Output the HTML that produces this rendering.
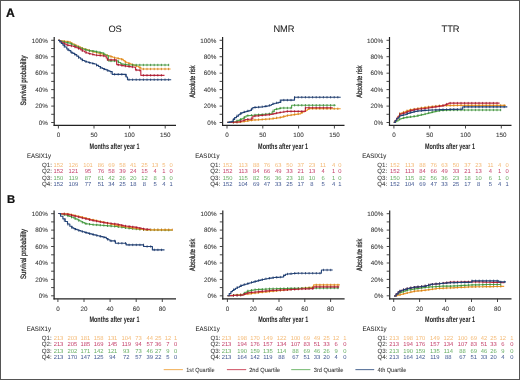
<!DOCTYPE html>
<html><head><meta charset="utf-8"><style>html,body{margin:0;padding:0;background:#fff;width:520px;height:380px;overflow:hidden}</style></head>
<body><svg width="520" height="380" viewBox="0 0 520 380" style="display:block;will-change:transform">
<g font-family='"Liberation Sans", sans-serif' style="text-rendering:geometricPrecision">
<rect x="0" y="0" width="520" height="380" fill="#fff"/>
<text x="5.9" y="16.5" font-size="12.2" fill="#111" stroke="#111" stroke-width="0.22" text-anchor="start" font-weight="bold" >A</text>
<text x="6.9" y="202.9" font-size="11.3" fill="#111" stroke="#111" stroke-width="0.22" text-anchor="start" font-weight="bold" >B</text>
<text x="115.1" y="32.1" font-size="9.3" fill="#222" stroke="#222" stroke-width="0.05" text-anchor="middle" font-weight="normal" >OS</text>
<text x="284.0" y="32.1" font-size="9.3" fill="#222" stroke="#222" stroke-width="0.05" text-anchor="middle" font-weight="normal" >NMR</text>
<text x="450.5" y="32.1" font-size="9.3" fill="#222" stroke="#222" stroke-width="0.05" text-anchor="middle" font-weight="normal" >TTR</text>
<line x1="54.2" y1="37" x2="54.2" y2="125.89999999999999" stroke="#222" stroke-width="1.2"/>
<line x1="53.6" y1="125.3" x2="176" y2="125.3" stroke="#222" stroke-width="1.2"/>
<line x1="51.2" y1="122.5" x2="54.2" y2="122.5" stroke="#333" stroke-width="0.9"/>
<text x="47.900000000000006" y="124.7" font-size="6.3" fill="#3a3a3a" stroke="#3a3a3a" stroke-width="0.08" text-anchor="end" font-weight="normal" >0%</text>
<line x1="51.2" y1="114.3" x2="54.2" y2="114.3" stroke="#333" stroke-width="0.9"/>
<line x1="51.2" y1="106.1" x2="54.2" y2="106.1" stroke="#333" stroke-width="0.9"/>
<text x="47.900000000000006" y="108.3" font-size="6.3" fill="#3a3a3a" stroke="#3a3a3a" stroke-width="0.08" text-anchor="end" font-weight="normal" >20%</text>
<line x1="51.2" y1="97.8" x2="54.2" y2="97.8" stroke="#333" stroke-width="0.9"/>
<line x1="51.2" y1="89.6" x2="54.2" y2="89.6" stroke="#333" stroke-width="0.9"/>
<text x="47.900000000000006" y="91.8" font-size="6.3" fill="#3a3a3a" stroke="#3a3a3a" stroke-width="0.08" text-anchor="end" font-weight="normal" >40%</text>
<line x1="51.2" y1="81.4" x2="54.2" y2="81.4" stroke="#333" stroke-width="0.9"/>
<line x1="51.2" y1="73.2" x2="54.2" y2="73.2" stroke="#333" stroke-width="0.9"/>
<text x="47.900000000000006" y="75.4" font-size="6.3" fill="#3a3a3a" stroke="#3a3a3a" stroke-width="0.08" text-anchor="end" font-weight="normal" >60%</text>
<line x1="51.2" y1="65.0" x2="54.2" y2="65.0" stroke="#333" stroke-width="0.9"/>
<line x1="51.2" y1="56.7" x2="54.2" y2="56.7" stroke="#333" stroke-width="0.9"/>
<text x="47.900000000000006" y="58.9" font-size="6.3" fill="#3a3a3a" stroke="#3a3a3a" stroke-width="0.08" text-anchor="end" font-weight="normal" >80%</text>
<line x1="51.2" y1="48.5" x2="54.2" y2="48.5" stroke="#333" stroke-width="0.9"/>
<line x1="51.2" y1="40.3" x2="54.2" y2="40.3" stroke="#333" stroke-width="0.9"/>
<text x="47.900000000000006" y="42.5" font-size="6.3" fill="#3a3a3a" stroke="#3a3a3a" stroke-width="0.08" text-anchor="end" font-weight="normal" >100%</text>
<line x1="58.4" y1="125.3" x2="58.4" y2="128.5" stroke="#333" stroke-width="0.9"/>
<text x="58.4" y="137.2" font-size="6.3" fill="#3a3a3a" stroke="#3a3a3a" stroke-width="0.08" text-anchor="middle" font-weight="normal" >0</text>
<line x1="94.0" y1="125.3" x2="94.0" y2="128.5" stroke="#333" stroke-width="0.9"/>
<text x="94.0" y="137.2" font-size="6.3" fill="#3a3a3a" stroke="#3a3a3a" stroke-width="0.08" text-anchor="middle" font-weight="normal" >50</text>
<line x1="129.6" y1="125.3" x2="129.6" y2="128.5" stroke="#333" stroke-width="0.9"/>
<text x="129.6" y="137.2" font-size="6.3" fill="#3a3a3a" stroke="#3a3a3a" stroke-width="0.08" text-anchor="middle" font-weight="normal" >100</text>
<line x1="165.2" y1="125.3" x2="165.2" y2="128.5" stroke="#333" stroke-width="0.9"/>
<text x="165.2" y="137.2" font-size="6.3" fill="#3a3a3a" stroke="#3a3a3a" stroke-width="0.08" text-anchor="middle" font-weight="normal" >150</text>
<text x="114.6" y="148.8" font-size="8.0" fill="#222" text-anchor="middle" font-weight="bold" textLength="50" lengthAdjust="spacingAndGlyphs" >Months after year 1</text>
<text x="0" y="0" font-size="7.8" fill="#2a2a2a" stroke="#2a2a2a" stroke-width="0.28" text-anchor="middle" textLength="50" lengthAdjust="spacingAndGlyphs" transform="translate(25.6,80.6) rotate(-90)">Survival probability</text>
<line x1="222.6" y1="37" x2="222.6" y2="125.89999999999999" stroke="#222" stroke-width="1.2"/>
<line x1="222.0" y1="125.3" x2="344.5" y2="125.3" stroke="#222" stroke-width="1.2"/>
<line x1="219.6" y1="122.5" x2="222.6" y2="122.5" stroke="#333" stroke-width="0.9"/>
<text x="216.29999999999998" y="124.7" font-size="6.3" fill="#3a3a3a" stroke="#3a3a3a" stroke-width="0.08" text-anchor="end" font-weight="normal" >0%</text>
<line x1="219.6" y1="114.3" x2="222.6" y2="114.3" stroke="#333" stroke-width="0.9"/>
<line x1="219.6" y1="106.1" x2="222.6" y2="106.1" stroke="#333" stroke-width="0.9"/>
<text x="216.29999999999998" y="108.3" font-size="6.3" fill="#3a3a3a" stroke="#3a3a3a" stroke-width="0.08" text-anchor="end" font-weight="normal" >20%</text>
<line x1="219.6" y1="97.8" x2="222.6" y2="97.8" stroke="#333" stroke-width="0.9"/>
<line x1="219.6" y1="89.6" x2="222.6" y2="89.6" stroke="#333" stroke-width="0.9"/>
<text x="216.29999999999998" y="91.8" font-size="6.3" fill="#3a3a3a" stroke="#3a3a3a" stroke-width="0.08" text-anchor="end" font-weight="normal" >40%</text>
<line x1="219.6" y1="81.4" x2="222.6" y2="81.4" stroke="#333" stroke-width="0.9"/>
<line x1="219.6" y1="73.2" x2="222.6" y2="73.2" stroke="#333" stroke-width="0.9"/>
<text x="216.29999999999998" y="75.4" font-size="6.3" fill="#3a3a3a" stroke="#3a3a3a" stroke-width="0.08" text-anchor="end" font-weight="normal" >60%</text>
<line x1="219.6" y1="65.0" x2="222.6" y2="65.0" stroke="#333" stroke-width="0.9"/>
<line x1="219.6" y1="56.7" x2="222.6" y2="56.7" stroke="#333" stroke-width="0.9"/>
<text x="216.29999999999998" y="58.9" font-size="6.3" fill="#3a3a3a" stroke="#3a3a3a" stroke-width="0.08" text-anchor="end" font-weight="normal" >80%</text>
<line x1="219.6" y1="48.5" x2="222.6" y2="48.5" stroke="#333" stroke-width="0.9"/>
<line x1="219.6" y1="40.3" x2="222.6" y2="40.3" stroke="#333" stroke-width="0.9"/>
<text x="216.29999999999998" y="42.5" font-size="6.3" fill="#3a3a3a" stroke="#3a3a3a" stroke-width="0.08" text-anchor="end" font-weight="normal" >100%</text>
<line x1="227.0" y1="125.3" x2="227.0" y2="128.5" stroke="#333" stroke-width="0.9"/>
<text x="227.0" y="137.2" font-size="6.3" fill="#3a3a3a" stroke="#3a3a3a" stroke-width="0.08" text-anchor="middle" font-weight="normal" >0</text>
<line x1="262.8" y1="125.3" x2="262.8" y2="128.5" stroke="#333" stroke-width="0.9"/>
<text x="262.8" y="137.2" font-size="6.3" fill="#3a3a3a" stroke="#3a3a3a" stroke-width="0.08" text-anchor="middle" font-weight="normal" >50</text>
<line x1="298.6" y1="125.3" x2="298.6" y2="128.5" stroke="#333" stroke-width="0.9"/>
<text x="298.6" y="137.2" font-size="6.3" fill="#3a3a3a" stroke="#3a3a3a" stroke-width="0.08" text-anchor="middle" font-weight="normal" >100</text>
<line x1="334.4" y1="125.3" x2="334.4" y2="128.5" stroke="#333" stroke-width="0.9"/>
<text x="334.4" y="137.2" font-size="6.3" fill="#3a3a3a" stroke="#3a3a3a" stroke-width="0.08" text-anchor="middle" font-weight="normal" >150</text>
<text x="283.1" y="148.8" font-size="8.0" fill="#222" text-anchor="middle" font-weight="bold" textLength="50" lengthAdjust="spacingAndGlyphs" >Months after year 1</text>
<text x="0" y="0" font-size="7.8" fill="#2a2a2a" stroke="#2a2a2a" stroke-width="0.28" text-anchor="middle" textLength="32.2" lengthAdjust="spacingAndGlyphs" transform="translate(194.8,81.6) rotate(-90)">Absolute risk</text>
<line x1="389.5" y1="37" x2="389.5" y2="125.89999999999999" stroke="#222" stroke-width="1.2"/>
<line x1="388.9" y1="125.3" x2="511.5" y2="125.3" stroke="#222" stroke-width="1.2"/>
<line x1="386.5" y1="122.5" x2="389.5" y2="122.5" stroke="#333" stroke-width="0.9"/>
<text x="383.2" y="124.7" font-size="6.3" fill="#3a3a3a" stroke="#3a3a3a" stroke-width="0.08" text-anchor="end" font-weight="normal" >0%</text>
<line x1="386.5" y1="114.3" x2="389.5" y2="114.3" stroke="#333" stroke-width="0.9"/>
<line x1="386.5" y1="106.1" x2="389.5" y2="106.1" stroke="#333" stroke-width="0.9"/>
<text x="383.2" y="108.3" font-size="6.3" fill="#3a3a3a" stroke="#3a3a3a" stroke-width="0.08" text-anchor="end" font-weight="normal" >20%</text>
<line x1="386.5" y1="97.8" x2="389.5" y2="97.8" stroke="#333" stroke-width="0.9"/>
<line x1="386.5" y1="89.6" x2="389.5" y2="89.6" stroke="#333" stroke-width="0.9"/>
<text x="383.2" y="91.8" font-size="6.3" fill="#3a3a3a" stroke="#3a3a3a" stroke-width="0.08" text-anchor="end" font-weight="normal" >40%</text>
<line x1="386.5" y1="81.4" x2="389.5" y2="81.4" stroke="#333" stroke-width="0.9"/>
<line x1="386.5" y1="73.2" x2="389.5" y2="73.2" stroke="#333" stroke-width="0.9"/>
<text x="383.2" y="75.4" font-size="6.3" fill="#3a3a3a" stroke="#3a3a3a" stroke-width="0.08" text-anchor="end" font-weight="normal" >60%</text>
<line x1="386.5" y1="65.0" x2="389.5" y2="65.0" stroke="#333" stroke-width="0.9"/>
<line x1="386.5" y1="56.7" x2="389.5" y2="56.7" stroke="#333" stroke-width="0.9"/>
<text x="383.2" y="58.9" font-size="6.3" fill="#3a3a3a" stroke="#3a3a3a" stroke-width="0.08" text-anchor="end" font-weight="normal" >80%</text>
<line x1="386.5" y1="48.5" x2="389.5" y2="48.5" stroke="#333" stroke-width="0.9"/>
<line x1="386.5" y1="40.3" x2="389.5" y2="40.3" stroke="#333" stroke-width="0.9"/>
<text x="383.2" y="42.5" font-size="6.3" fill="#3a3a3a" stroke="#3a3a3a" stroke-width="0.08" text-anchor="end" font-weight="normal" >100%</text>
<line x1="393.9" y1="125.3" x2="393.9" y2="128.5" stroke="#333" stroke-width="0.9"/>
<text x="393.9" y="137.2" font-size="6.3" fill="#3a3a3a" stroke="#3a3a3a" stroke-width="0.08" text-anchor="middle" font-weight="normal" >0</text>
<line x1="429.7" y1="125.3" x2="429.7" y2="128.5" stroke="#333" stroke-width="0.9"/>
<text x="429.7" y="137.2" font-size="6.3" fill="#3a3a3a" stroke="#3a3a3a" stroke-width="0.08" text-anchor="middle" font-weight="normal" >50</text>
<line x1="465.5" y1="125.3" x2="465.5" y2="128.5" stroke="#333" stroke-width="0.9"/>
<text x="465.5" y="137.2" font-size="6.3" fill="#3a3a3a" stroke="#3a3a3a" stroke-width="0.08" text-anchor="middle" font-weight="normal" >100</text>
<line x1="501.3" y1="125.3" x2="501.3" y2="128.5" stroke="#333" stroke-width="0.9"/>
<text x="501.3" y="137.2" font-size="6.3" fill="#3a3a3a" stroke="#3a3a3a" stroke-width="0.08" text-anchor="middle" font-weight="normal" >150</text>
<text x="450.0" y="148.8" font-size="8.0" fill="#222" text-anchor="middle" font-weight="bold" textLength="50" lengthAdjust="spacingAndGlyphs" >Months after year 1</text>
<text x="0" y="0" font-size="7.8" fill="#2a2a2a" stroke="#2a2a2a" stroke-width="0.28" text-anchor="middle" textLength="32.2" lengthAdjust="spacingAndGlyphs" transform="translate(361.6,81.6) rotate(-90)">Absolute risk</text>
<line x1="54.1" y1="210.5" x2="54.1" y2="299.40000000000003" stroke="#222" stroke-width="1.2"/>
<line x1="53.5" y1="298.8" x2="176" y2="298.8" stroke="#222" stroke-width="1.2"/>
<line x1="51.1" y1="295.8" x2="54.1" y2="295.8" stroke="#333" stroke-width="0.9"/>
<text x="47.800000000000004" y="298.0" font-size="6.3" fill="#3a3a3a" stroke="#3a3a3a" stroke-width="0.08" text-anchor="end" font-weight="normal" >0%</text>
<line x1="51.1" y1="287.6" x2="54.1" y2="287.6" stroke="#333" stroke-width="0.9"/>
<line x1="51.1" y1="279.4" x2="54.1" y2="279.4" stroke="#333" stroke-width="0.9"/>
<text x="47.800000000000004" y="281.6" font-size="6.3" fill="#3a3a3a" stroke="#3a3a3a" stroke-width="0.08" text-anchor="end" font-weight="normal" >20%</text>
<line x1="51.1" y1="271.2" x2="54.1" y2="271.2" stroke="#333" stroke-width="0.9"/>
<line x1="51.1" y1="263.0" x2="54.1" y2="263.0" stroke="#333" stroke-width="0.9"/>
<text x="47.800000000000004" y="265.2" font-size="6.3" fill="#3a3a3a" stroke="#3a3a3a" stroke-width="0.08" text-anchor="end" font-weight="normal" >40%</text>
<line x1="51.1" y1="254.8" x2="54.1" y2="254.8" stroke="#333" stroke-width="0.9"/>
<line x1="51.1" y1="246.5" x2="54.1" y2="246.5" stroke="#333" stroke-width="0.9"/>
<text x="47.800000000000004" y="248.7" font-size="6.3" fill="#3a3a3a" stroke="#3a3a3a" stroke-width="0.08" text-anchor="end" font-weight="normal" >60%</text>
<line x1="51.1" y1="238.3" x2="54.1" y2="238.3" stroke="#333" stroke-width="0.9"/>
<line x1="51.1" y1="230.1" x2="54.1" y2="230.1" stroke="#333" stroke-width="0.9"/>
<text x="47.800000000000004" y="232.3" font-size="6.3" fill="#3a3a3a" stroke="#3a3a3a" stroke-width="0.08" text-anchor="end" font-weight="normal" >80%</text>
<line x1="51.1" y1="221.9" x2="54.1" y2="221.9" stroke="#333" stroke-width="0.9"/>
<line x1="51.1" y1="213.7" x2="54.1" y2="213.7" stroke="#333" stroke-width="0.9"/>
<text x="47.800000000000004" y="215.9" font-size="6.3" fill="#3a3a3a" stroke="#3a3a3a" stroke-width="0.08" text-anchor="end" font-weight="normal" >100%</text>
<line x1="57.9" y1="298.8" x2="57.9" y2="302.0" stroke="#333" stroke-width="0.9"/>
<text x="57.9" y="310.7" font-size="6.3" fill="#3a3a3a" stroke="#3a3a3a" stroke-width="0.08" text-anchor="middle" font-weight="normal" >0</text>
<line x1="84.0" y1="298.8" x2="84.0" y2="302.0" stroke="#333" stroke-width="0.9"/>
<text x="84.0" y="310.7" font-size="6.3" fill="#3a3a3a" stroke="#3a3a3a" stroke-width="0.08" text-anchor="middle" font-weight="normal" >20</text>
<line x1="110.1" y1="298.8" x2="110.1" y2="302.0" stroke="#333" stroke-width="0.9"/>
<text x="110.1" y="310.7" font-size="6.3" fill="#3a3a3a" stroke="#3a3a3a" stroke-width="0.08" text-anchor="middle" font-weight="normal" >40</text>
<line x1="136.2" y1="298.8" x2="136.2" y2="302.0" stroke="#333" stroke-width="0.9"/>
<text x="136.2" y="310.7" font-size="6.3" fill="#3a3a3a" stroke="#3a3a3a" stroke-width="0.08" text-anchor="middle" font-weight="normal" >60</text>
<line x1="162.3" y1="298.8" x2="162.3" y2="302.0" stroke="#333" stroke-width="0.9"/>
<text x="162.3" y="310.7" font-size="6.3" fill="#3a3a3a" stroke="#3a3a3a" stroke-width="0.08" text-anchor="middle" font-weight="normal" >80</text>
<text x="114.5" y="322.3" font-size="8.0" fill="#222" text-anchor="middle" font-weight="bold" textLength="50" lengthAdjust="spacingAndGlyphs" >Months after year 1</text>
<text x="0" y="0" font-size="7.8" fill="#2a2a2a" stroke="#2a2a2a" stroke-width="0.28" text-anchor="middle" textLength="50" lengthAdjust="spacingAndGlyphs" transform="translate(25.6,253.9) rotate(-90)">Survival probability</text>
<line x1="222.8" y1="210.5" x2="222.8" y2="299.40000000000003" stroke="#222" stroke-width="1.2"/>
<line x1="222.20000000000002" y1="298.8" x2="344.6" y2="298.8" stroke="#222" stroke-width="1.2"/>
<line x1="219.8" y1="295.8" x2="222.8" y2="295.8" stroke="#333" stroke-width="0.9"/>
<text x="216.5" y="298.0" font-size="6.3" fill="#3a3a3a" stroke="#3a3a3a" stroke-width="0.08" text-anchor="end" font-weight="normal" >0%</text>
<line x1="219.8" y1="287.6" x2="222.8" y2="287.6" stroke="#333" stroke-width="0.9"/>
<line x1="219.8" y1="279.4" x2="222.8" y2="279.4" stroke="#333" stroke-width="0.9"/>
<text x="216.5" y="281.6" font-size="6.3" fill="#3a3a3a" stroke="#3a3a3a" stroke-width="0.08" text-anchor="end" font-weight="normal" >20%</text>
<line x1="219.8" y1="271.2" x2="222.8" y2="271.2" stroke="#333" stroke-width="0.9"/>
<line x1="219.8" y1="263.0" x2="222.8" y2="263.0" stroke="#333" stroke-width="0.9"/>
<text x="216.5" y="265.2" font-size="6.3" fill="#3a3a3a" stroke="#3a3a3a" stroke-width="0.08" text-anchor="end" font-weight="normal" >40%</text>
<line x1="219.8" y1="254.8" x2="222.8" y2="254.8" stroke="#333" stroke-width="0.9"/>
<line x1="219.8" y1="246.5" x2="222.8" y2="246.5" stroke="#333" stroke-width="0.9"/>
<text x="216.5" y="248.7" font-size="6.3" fill="#3a3a3a" stroke="#3a3a3a" stroke-width="0.08" text-anchor="end" font-weight="normal" >60%</text>
<line x1="219.8" y1="238.3" x2="222.8" y2="238.3" stroke="#333" stroke-width="0.9"/>
<line x1="219.8" y1="230.1" x2="222.8" y2="230.1" stroke="#333" stroke-width="0.9"/>
<text x="216.5" y="232.3" font-size="6.3" fill="#3a3a3a" stroke="#3a3a3a" stroke-width="0.08" text-anchor="end" font-weight="normal" >80%</text>
<line x1="219.8" y1="221.9" x2="222.8" y2="221.9" stroke="#333" stroke-width="0.9"/>
<line x1="219.8" y1="213.7" x2="222.8" y2="213.7" stroke="#333" stroke-width="0.9"/>
<text x="216.5" y="215.9" font-size="6.3" fill="#3a3a3a" stroke="#3a3a3a" stroke-width="0.08" text-anchor="end" font-weight="normal" >100%</text>
<line x1="227.4" y1="298.8" x2="227.4" y2="302.0" stroke="#333" stroke-width="0.9"/>
<text x="227.4" y="310.7" font-size="6.3" fill="#3a3a3a" stroke="#3a3a3a" stroke-width="0.08" text-anchor="middle" font-weight="normal" >0</text>
<line x1="253.2" y1="298.8" x2="253.2" y2="302.0" stroke="#333" stroke-width="0.9"/>
<text x="253.2" y="310.7" font-size="6.3" fill="#3a3a3a" stroke="#3a3a3a" stroke-width="0.08" text-anchor="middle" font-weight="normal" >20</text>
<line x1="279.0" y1="298.8" x2="279.0" y2="302.0" stroke="#333" stroke-width="0.9"/>
<text x="279.0" y="310.7" font-size="6.3" fill="#3a3a3a" stroke="#3a3a3a" stroke-width="0.08" text-anchor="middle" font-weight="normal" >40</text>
<line x1="304.8" y1="298.8" x2="304.8" y2="302.0" stroke="#333" stroke-width="0.9"/>
<text x="304.8" y="310.7" font-size="6.3" fill="#3a3a3a" stroke="#3a3a3a" stroke-width="0.08" text-anchor="middle" font-weight="normal" >60</text>
<line x1="330.6" y1="298.8" x2="330.6" y2="302.0" stroke="#333" stroke-width="0.9"/>
<text x="330.6" y="310.7" font-size="6.3" fill="#3a3a3a" stroke="#3a3a3a" stroke-width="0.08" text-anchor="middle" font-weight="normal" >80</text>
<text x="283.2" y="322.3" font-size="8.0" fill="#222" text-anchor="middle" font-weight="bold" textLength="50" lengthAdjust="spacingAndGlyphs" >Months after year 1</text>
<text x="0" y="0" font-size="7.8" fill="#2a2a2a" stroke="#2a2a2a" stroke-width="0.28" text-anchor="middle" textLength="32.2" lengthAdjust="spacingAndGlyphs" transform="translate(194.8,254.9) rotate(-90)">Absolute risk</text>
<line x1="389.7" y1="210.5" x2="389.7" y2="299.40000000000003" stroke="#222" stroke-width="1.2"/>
<line x1="389.09999999999997" y1="298.8" x2="511.5" y2="298.8" stroke="#222" stroke-width="1.2"/>
<line x1="386.7" y1="295.8" x2="389.7" y2="295.8" stroke="#333" stroke-width="0.9"/>
<text x="383.4" y="298.0" font-size="6.3" fill="#3a3a3a" stroke="#3a3a3a" stroke-width="0.08" text-anchor="end" font-weight="normal" >0%</text>
<line x1="386.7" y1="287.6" x2="389.7" y2="287.6" stroke="#333" stroke-width="0.9"/>
<line x1="386.7" y1="279.4" x2="389.7" y2="279.4" stroke="#333" stroke-width="0.9"/>
<text x="383.4" y="281.6" font-size="6.3" fill="#3a3a3a" stroke="#3a3a3a" stroke-width="0.08" text-anchor="end" font-weight="normal" >20%</text>
<line x1="386.7" y1="271.2" x2="389.7" y2="271.2" stroke="#333" stroke-width="0.9"/>
<line x1="386.7" y1="263.0" x2="389.7" y2="263.0" stroke="#333" stroke-width="0.9"/>
<text x="383.4" y="265.2" font-size="6.3" fill="#3a3a3a" stroke="#3a3a3a" stroke-width="0.08" text-anchor="end" font-weight="normal" >40%</text>
<line x1="386.7" y1="254.8" x2="389.7" y2="254.8" stroke="#333" stroke-width="0.9"/>
<line x1="386.7" y1="246.5" x2="389.7" y2="246.5" stroke="#333" stroke-width="0.9"/>
<text x="383.4" y="248.7" font-size="6.3" fill="#3a3a3a" stroke="#3a3a3a" stroke-width="0.08" text-anchor="end" font-weight="normal" >60%</text>
<line x1="386.7" y1="238.3" x2="389.7" y2="238.3" stroke="#333" stroke-width="0.9"/>
<line x1="386.7" y1="230.1" x2="389.7" y2="230.1" stroke="#333" stroke-width="0.9"/>
<text x="383.4" y="232.3" font-size="6.3" fill="#3a3a3a" stroke="#3a3a3a" stroke-width="0.08" text-anchor="end" font-weight="normal" >80%</text>
<line x1="386.7" y1="221.9" x2="389.7" y2="221.9" stroke="#333" stroke-width="0.9"/>
<line x1="386.7" y1="213.7" x2="389.7" y2="213.7" stroke="#333" stroke-width="0.9"/>
<text x="383.4" y="215.9" font-size="6.3" fill="#3a3a3a" stroke="#3a3a3a" stroke-width="0.08" text-anchor="end" font-weight="normal" >100%</text>
<line x1="393.7" y1="298.8" x2="393.7" y2="302.0" stroke="#333" stroke-width="0.9"/>
<text x="393.7" y="310.7" font-size="6.3" fill="#3a3a3a" stroke="#3a3a3a" stroke-width="0.08" text-anchor="middle" font-weight="normal" >0</text>
<line x1="419.6" y1="298.8" x2="419.6" y2="302.0" stroke="#333" stroke-width="0.9"/>
<text x="419.6" y="310.7" font-size="6.3" fill="#3a3a3a" stroke="#3a3a3a" stroke-width="0.08" text-anchor="middle" font-weight="normal" >20</text>
<line x1="445.6" y1="298.8" x2="445.6" y2="302.0" stroke="#333" stroke-width="0.9"/>
<text x="445.6" y="310.7" font-size="6.3" fill="#3a3a3a" stroke="#3a3a3a" stroke-width="0.08" text-anchor="middle" font-weight="normal" >40</text>
<line x1="471.5" y1="298.8" x2="471.5" y2="302.0" stroke="#333" stroke-width="0.9"/>
<text x="471.5" y="310.7" font-size="6.3" fill="#3a3a3a" stroke="#3a3a3a" stroke-width="0.08" text-anchor="middle" font-weight="normal" >60</text>
<line x1="497.5" y1="298.8" x2="497.5" y2="302.0" stroke="#333" stroke-width="0.9"/>
<text x="497.5" y="310.7" font-size="6.3" fill="#3a3a3a" stroke="#3a3a3a" stroke-width="0.08" text-anchor="middle" font-weight="normal" >80</text>
<text x="450.1" y="322.3" font-size="8.0" fill="#222" text-anchor="middle" font-weight="bold" textLength="50" lengthAdjust="spacingAndGlyphs" >Months after year 1</text>
<text x="0" y="0" font-size="7.8" fill="#2a2a2a" stroke="#2a2a2a" stroke-width="0.28" text-anchor="middle" textLength="32.2" lengthAdjust="spacingAndGlyphs" transform="translate(361.6,254.9) rotate(-90)">Absolute risk</text>
<polyline points="58.2,40.3 59.8,40.3 59.8,40.6 61.3,40.6 61.3,40.8 62.9,40.8 62.9,41.1 64.7,41.1 64.7,41.4 66.6,41.4 66.6,41.6 68.4,41.6 68.4,41.9 70.5,41.9 70.5,43.0 72.6,43.0 72.6,44.0 74.7,44.0 74.7,45.1 76.7,45.1 76.7,46.0 78.7,46.0 78.7,46.9 80.6,46.9 80.6,47.7 82.6,47.7 82.6,48.6 84.3,48.6 84.3,49.1 86.0,49.1 86.0,49.6 87.7,49.6 87.7,50.1 89.4,50.1 89.4,50.7 91.1,50.7 91.1,51.2 92.8,51.2 92.8,51.7 94.5,51.7 94.5,52.2 96.4,52.2 96.4,52.7 98.3,52.7 98.3,53.1 100.2,53.1 100.2,53.6 102.1,53.6 102.1,54.1 104.0,54.1 104.0,54.5 105.9,54.5 105.9,55.0 107.6,55.0 107.6,55.5 109.3,55.5 109.3,56.1 110.9,56.1 110.9,56.6 112.6,56.6 112.6,57.2 114.3,57.2 114.3,57.7 116.2,57.7 116.2,58.1 118.0,58.1 118.0,58.5 119.8,58.5 119.8,58.9 121.7,58.9 121.7,59.3 123.3,59.3 123.3,60.6 125.0,60.6 125.0,62.0 126.7,62.0 126.7,62.7 128.5,62.7 128.5,63.3 130.2,63.3 130.2,64.0 131.8,64.0 131.8,64.5 133.4,64.5 133.4,65.1 135.0,65.1 135.0,65.7 136.6,65.7 136.6,66.2 138.7,66.2 138.7,67.2 140.8,67.2 140.8,68.3 141.0,69.0 170.6,69.0" fill="none" stroke="#ef9c2f" stroke-width="1.15" stroke-linejoin="round"/>
<path d="M64.2 40.1v2.4 M67.8 40.6v2.4 M71.4 42.2v2.4 M75.0 44.0v2.4 M78.6 45.6v2.4 M82.2 47.2v2.4 M85.8 48.4v2.4 M89.4 49.5v2.4 M93.0 50.5v2.4 M96.6 51.5v2.4 M100.2 52.4v2.4 M103.8 53.3v2.4 M107.4 54.3v2.4 M111.0 55.4v2.4 M114.6 56.6v2.4 M118.2 57.3v2.4 M121.8 58.2v2.4 M125.4 61.0v2.4 M129.0 62.3v2.4 M132.6 63.6v2.4 M136.2 64.9v2.4 M139.8 66.6v2.4 M143.4 67.8v2.4 M147.0 67.8v2.4 M150.6 67.8v2.4 M154.2 67.8v2.4 M157.8 67.8v2.4 M161.4 67.8v2.4 M165.0 67.8v2.4 M168.6 67.8v2.4" stroke="#c07010" stroke-width="0.9" fill="none" stroke-opacity="0.8"/>
<polyline points="58.2,40.3 59.8,40.3 59.8,40.8 61.3,40.8 61.3,41.4 62.9,41.4 62.9,41.9 64.5,41.9 64.5,42.2 66.0,42.2 66.0,42.5 67.6,42.5 67.6,42.8 69.2,42.8 69.2,43.1 71.0,43.1 71.0,44.0 72.9,44.0 72.9,45.0 74.7,45.0 74.7,45.9 76.7,45.9 76.7,46.7 78.7,46.7 78.7,47.5 80.6,47.5 80.6,48.2 82.6,48.2 82.6,49.0 84.2,49.0 84.2,49.4 85.8,49.4 85.8,49.8 87.3,49.8 87.3,50.2 88.9,50.2 88.9,50.6 90.8,50.6 90.8,50.9 92.6,50.9 92.6,51.1 94.5,51.1 94.5,51.4 96.3,51.4 96.3,51.8 98.0,51.8 98.0,52.1 99.8,52.1 99.8,52.5 101.6,52.5 101.6,52.9 103.8,52.9 103.8,54.2 105.9,54.2 105.9,55.6 108.5,55.6 108.5,60.9 116.5,60.9 118.6,60.9 118.6,62.5 120.7,62.5 120.7,64.0 122.3,64.0 122.3,64.2 123.9,64.2 123.9,64.4 125.6,64.4 125.6,64.6 127.2,64.6 127.2,64.8 128.8,64.8 128.8,65.0 169.2,65.0" fill="none" stroke="#55a94f" stroke-width="1.15" stroke-linejoin="round"/>
<path d="M64.2 40.9v2.4 M67.8 41.6v2.4 M71.4 43.0v2.4 M75.0 44.8v2.4 M78.6 46.2v2.4 M82.2 47.6v2.4 M85.8 48.6v2.4 M89.4 49.5v2.4 M93.0 50.0v2.4 M96.6 50.6v2.4 M100.2 51.4v2.4 M103.8 53.1v2.4 M107.4 57.5v2.4 M111.0 59.7v2.4 M114.6 59.7v2.4 M118.2 61.0v2.4 M121.8 62.9v2.4 M125.4 63.4v2.4 M129.0 63.8v2.4 M132.6 63.8v2.4 M136.2 63.8v2.4 M139.8 63.8v2.4 M143.4 63.8v2.4 M147.0 63.8v2.4 M150.6 63.8v2.4 M154.2 63.8v2.4 M157.8 63.8v2.4 M161.4 63.8v2.4 M165.0 63.8v2.4 M168.6 63.8v2.4" stroke="#2f7a2c" stroke-width="0.9" fill="none" stroke-opacity="0.8"/>
<polyline points="58.2,40.3 59.8,40.3 59.8,41.2 61.3,41.2 61.3,42.2 62.9,42.2 62.9,43.1 64.8,43.1 64.8,44.1 66.8,44.1 66.8,45.1 68.4,45.1 68.4,45.4 70.0,45.4 70.0,45.7 71.6,45.7 71.6,46.0 73.2,46.0 73.2,46.3 75.0,46.3 75.0,47.1 76.9,47.1 76.9,47.8 78.7,47.8 78.7,48.6 80.7,48.6 80.7,49.8 82.6,49.8 82.6,51.0 84.6,51.0 84.6,52.0 86.6,52.0 86.6,53.0 88.6,53.0 88.6,53.5 90.5,53.5 90.5,54.0 92.5,54.0 92.5,54.5 94.5,54.5 94.5,55.0 96.2,55.0 96.2,55.2 97.9,55.2 97.9,55.4 99.7,55.4 99.7,55.5 101.4,55.5 101.4,55.7 103.1,55.7 103.1,55.9 104.8,55.9 104.8,56.1 106.2,56.1 106.2,58.0 107.5,58.0 107.5,59.8 116.5,59.8 116.7,64.6 118.6,64.6 118.6,64.9 120.4,64.9 120.4,65.2 122.3,65.2 122.3,65.6 124.1,65.6 124.1,65.9 126.0,65.9 126.0,66.2 127.7,66.2 127.7,66.4 129.4,66.4 129.4,66.6 131.0,66.6 131.0,66.8 132.7,66.8 132.7,67.0 134.4,67.0 134.4,67.2 135.5,67.2 135.5,69.9 137.1,69.9 137.1,70.1 138.7,70.1 138.7,70.2 140.3,70.2 140.3,70.4 140.8,70.4 140.8,73.6 140.8,75.3 164.5,75.3" fill="none" stroke="#c42a40" stroke-width="1.15" stroke-linejoin="round"/>
<path d="M64.2 42.6v2.4 M67.8 44.1v2.4 M71.4 44.8v2.4 M75.0 45.9v2.4 M78.6 47.4v2.4 M82.2 49.6v2.4 M85.8 51.4v2.4 M89.4 52.5v2.4 M93.0 53.4v2.4 M96.6 54.0v2.4 M100.2 54.4v2.4 M103.8 54.8v2.4 M107.4 58.5v2.4 M111.0 58.6v2.4 M114.6 58.6v2.4 M118.2 63.7v2.4 M121.8 64.3v2.4 M125.4 64.9v2.4 M129.0 65.4v2.4 M132.6 65.8v2.4 M136.2 68.8v2.4 M139.8 69.1v2.4 M143.4 74.1v2.4 M147.0 74.1v2.4 M150.6 74.1v2.4 M154.2 74.1v2.4 M157.8 74.1v2.4 M161.4 74.1v2.4" stroke="#8a1828" stroke-width="0.9" fill="none" stroke-opacity="0.8"/>
<polyline points="58.2,40.3 59.8,40.3 59.8,41.9 61.3,41.9 61.3,43.5 62.9,43.5 62.9,45.1 64.8,45.1 64.8,47.0 66.8,47.0 66.8,49.0 68.8,49.0 68.8,50.6 70.8,50.6 70.8,52.2 72.8,52.2 72.8,53.4 74.7,53.4 74.7,54.5 76.7,54.5 76.7,56.1 78.7,56.1 78.7,57.7 80.7,57.7 80.7,59.1 82.6,59.1 82.6,60.5 84.6,60.5 84.6,61.2 86.6,61.2 86.6,62.0 88.6,62.0 88.6,62.5 90.5,62.5 90.5,63.0 92.5,63.0 92.5,63.5 94.5,63.5 94.5,64.0 96.5,64.0 96.5,65.3 98.6,65.3 98.6,66.5 100.6,66.5 100.6,67.8 102.5,67.8 102.5,68.5 104.4,68.5 104.4,69.3 106.2,69.3 106.2,70.0 108.1,70.0 108.1,70.8 110.0,70.8 110.0,71.5 112.2,71.5 112.2,73.6 112.2,74.3 124.8,74.3 126.2,74.3 126.2,77.0 127.5,77.0 127.5,79.7 171.2,79.7" fill="none" stroke="#24457a" stroke-width="1.15" stroke-linejoin="round"/>
<path d="M64.2 45.2v2.4 M67.8 48.6v2.4 M71.4 51.4v2.4 M75.0 53.5v2.4 M78.6 56.4v2.4 M82.2 59.0v2.4 M85.8 60.5v2.4 M89.4 61.5v2.4 M93.0 62.4v2.4 M96.6 64.1v2.4 M100.2 66.4v2.4 M103.8 67.9v2.4 M107.4 69.3v2.4 M111.0 71.3v2.4 M114.6 73.1v2.4 M118.2 73.1v2.4 M121.8 73.1v2.4 M125.4 74.3v2.4 M129.0 78.5v2.4 M132.6 78.5v2.4 M136.2 78.5v2.4 M139.8 78.5v2.4 M143.4 78.5v2.4 M147.0 78.5v2.4 M150.6 78.5v2.4 M154.2 78.5v2.4 M157.8 78.5v2.4 M161.4 78.5v2.4 M165.0 78.5v2.4 M168.6 78.5v2.4" stroke="#1a3260" stroke-width="0.9" fill="none" stroke-opacity="0.8"/>
<polyline points="227.4,122.4 238.4,122.2 240.2,122.2 240.2,121.9 242.0,121.9 242.0,121.7 243.8,121.7 243.8,121.4 245.6,121.4 245.6,121.1 247.4,121.1 247.4,120.8 249.2,120.8 249.2,120.5 251.0,120.5 251.0,120.3 252.8,120.3 252.8,120.0 254.5,120.0 254.5,119.9 256.2,119.9 256.2,119.8 258.0,119.8 258.0,119.7 259.7,119.7 259.7,119.6 261.4,119.6 261.4,119.5 263.1,119.5 263.1,119.3 264.8,119.3 264.8,119.2 266.6,119.2 266.6,119.1 268.3,119.1 268.3,119.0 270.0,119.0 270.0,118.9 271.7,118.9 271.7,118.7 273.4,118.7 273.4,118.4 275.1,118.4 275.1,118.2 276.7,118.2 276.7,117.9 278.4,117.9 278.4,117.7 280.1,117.7 280.1,117.4 282.0,117.4 282.0,116.8 284.0,116.8 284.0,116.3 285.9,116.3 285.9,115.7 287.8,115.7 287.8,115.4 289.6,115.4 289.6,115.2 291.5,115.2 291.5,114.9 293.3,114.9 293.3,114.6 295.2,114.6 295.2,114.3 297.0,114.3 297.0,114.1 298.9,114.1 298.9,113.8 300.7,113.8 300.7,112.9 302.4,112.9 302.4,112.0 304.2,112.0 304.2,111.1 306.0,111.1 306.0,110.2 307.5,110.2 307.5,109.3 309.0,109.3 309.0,108.5 340.7,108.8" fill="none" stroke="#ef9c2f" stroke-width="1.15" stroke-linejoin="round"/>
<path d="M233.4 121.1v2.4 M237.0 121.0v2.4 M240.6 120.7v2.4 M244.2 120.1v2.4 M247.8 119.6v2.4 M251.4 119.0v2.4 M255.0 118.7v2.4 M258.6 118.4v2.4 M262.2 118.2v2.4 M265.8 118.0v2.4 M269.4 117.7v2.4 M273.0 117.3v2.4 M276.6 116.7v2.4 M280.2 116.2v2.4 M283.8 115.1v2.4 M287.4 114.3v2.4 M291.0 113.8v2.4 M294.6 113.2v2.4 M298.2 112.7v2.4 M301.8 111.1v2.4 M305.4 109.3v2.4 M309.0 107.3v2.4 M312.6 107.3v2.4 M316.2 107.4v2.4 M319.8 107.4v2.4 M323.4 107.4v2.4 M327.0 107.5v2.4 M330.6 107.5v2.4 M334.2 107.5v2.4 M337.8 107.6v2.4" stroke="#c07010" stroke-width="0.9" fill="none" stroke-opacity="0.8"/>
<polyline points="227.4,122.4 229.2,122.4 229.2,122.3 231.0,122.3 231.0,122.2 232.8,122.2 232.8,122.0 234.6,122.0 234.6,121.9 236.3,121.9 236.3,121.1 238.0,121.1 238.0,120.4 239.8,120.4 239.8,119.6 241.5,119.6 241.5,118.9 243.2,118.9 243.2,118.1 244.6,118.1 244.6,116.9 246.1,116.9 246.1,115.7 247.8,115.7 247.8,115.6 249.4,115.6 249.4,115.5 251.1,115.5 251.1,115.3 252.8,115.3 252.8,115.2 254.5,115.2 254.5,115.1 256.2,115.1 256.2,114.9 258.0,114.9 258.0,114.8 259.7,114.8 259.7,114.6 261.4,114.6 261.4,114.5 263.1,114.5 263.1,114.4 264.8,114.4 264.8,114.2 266.6,114.2 266.6,114.1 268.3,114.1 268.3,113.9 270.0,113.9 270.0,113.8 272.1,113.8 272.1,111.7 274.3,111.7 274.3,109.5 275.9,109.5 275.9,109.1 277.6,109.1 277.6,108.8 279.2,108.8 279.2,108.4 280.8,108.4 280.8,108.0 291.6,108.0 291.6,105.2 335.7,105.2" fill="none" stroke="#55a94f" stroke-width="1.15" stroke-linejoin="round"/>
<path d="M233.4 120.8v2.4 M237.0 119.6v2.4 M240.6 118.0v2.4 M244.2 116.1v2.4 M247.8 114.4v2.4 M251.4 114.1v2.4 M255.0 113.8v2.4 M258.6 113.5v2.4 M262.2 113.2v2.4 M265.8 112.9v2.4 M269.4 112.6v2.4 M273.0 109.6v2.4 M276.6 107.8v2.4 M280.2 106.9v2.4 M283.8 106.8v2.4 M287.4 106.8v2.4 M291.0 106.8v2.4 M294.6 104.0v2.4 M298.2 104.0v2.4 M301.8 104.0v2.4 M305.4 104.0v2.4 M309.0 104.0v2.4 M312.6 104.0v2.4 M316.2 104.0v2.4 M319.8 104.0v2.4 M323.4 104.0v2.4 M327.0 104.0v2.4 M330.6 104.0v2.4 M334.2 104.0v2.4" stroke="#2f7a2c" stroke-width="0.9" fill="none" stroke-opacity="0.8"/>
<polyline points="227.4,122.4 229.2,122.4 229.2,122.3 231.1,122.3 231.1,122.2 232.9,122.2 232.9,122.2 234.7,122.2 234.7,122.1 236.6,122.1 236.6,122.0 238.4,122.0 238.4,121.9 239.9,121.9 239.9,121.5 241.3,121.5 241.3,121.0 243.2,121.0 243.2,120.2 245.2,120.2 245.2,119.5 247.1,119.5 247.1,119.3 249.0,119.3 249.0,119.2 250.9,119.2 250.9,119.0 252.8,119.0 252.8,116.2 254.5,116.2 254.5,116.0 256.2,116.0 256.2,115.9 258.0,115.9 258.0,115.7 259.7,115.7 259.7,115.5 261.4,115.5 261.4,115.3 263.1,115.3 263.1,115.2 264.8,115.2 264.8,115.0 266.6,115.0 266.6,114.8 268.3,114.8 268.3,114.7 270.0,114.7 270.0,114.5 271.9,114.5 271.9,114.0 273.9,114.0 273.9,113.6 275.8,113.6 275.8,113.1 277.5,113.1 277.5,112.8 279.2,112.8 279.2,112.5 280.9,112.5 280.9,112.2 282.5,112.2 282.5,112.0 284.2,112.0 284.2,111.7 285.9,111.7 285.9,111.4 304.6,111.4 305.4,111.4 305.4,107.7 332.8,107.7" fill="none" stroke="#c42a40" stroke-width="1.15" stroke-linejoin="round"/>
<path d="M233.4 120.9v2.4 M237.0 120.8v2.4 M240.6 120.0v2.4 M244.2 118.7v2.4 M247.8 118.1v2.4 M251.4 117.1v2.4 M255.0 114.8v2.4 M258.6 114.4v2.4 M262.2 114.1v2.4 M265.8 113.7v2.4 M269.4 113.4v2.4 M273.0 112.6v2.4 M276.6 111.8v2.4 M280.2 111.2v2.4 M283.8 110.6v2.4 M287.4 110.2v2.4 M291.0 110.2v2.4 M294.6 110.2v2.4 M298.2 110.2v2.4 M301.8 110.2v2.4 M305.4 106.5v2.4 M309.0 106.5v2.4 M312.6 106.5v2.4 M316.2 106.5v2.4 M319.8 106.5v2.4 M323.4 106.5v2.4 M327.0 106.5v2.4 M330.6 106.5v2.4" stroke="#8a1828" stroke-width="0.9" fill="none" stroke-opacity="0.8"/>
<polyline points="227.4,122.4 229.6,122.4 229.6,121.9 231.7,121.9 231.7,121.4 233.1,121.4 233.1,119.5 234.6,119.5 234.6,117.6 236.5,117.6 236.5,116.2 238.4,116.2 238.4,114.7 239.9,114.7 239.9,113.8 241.3,113.8 241.3,112.8 242.9,112.8 242.9,112.3 244.5,112.3 244.5,111.8 246.1,111.8 246.1,111.3 248.1,111.3 248.1,110.8 250.0,110.8 250.0,110.4 251.4,110.4 251.4,109.0 252.8,109.0 252.8,107.5 254.7,107.5 254.7,107.4 256.6,107.4 256.6,107.2 258.6,107.2 258.6,107.1 260.5,107.1 260.5,107.0 262.4,107.0 262.4,106.7 264.4,106.7 264.4,106.4 266.3,106.4 266.3,106.1 268.1,106.1 268.1,105.7 270.0,105.7 270.0,105.2 271.4,105.2 271.4,104.5 272.9,104.5 272.9,103.7 274.8,103.7 274.8,103.2 276.8,103.2 276.8,102.8 278.7,102.8 278.7,102.3 280.8,102.3 280.8,100.1 293.1,100.1 294.5,100.1 294.5,97.2 340.7,97.2" fill="none" stroke="#24457a" stroke-width="1.15" stroke-linejoin="round"/>
<path d="M233.4 118.0v2.4 M237.0 114.6v2.4 M240.6 112.1v2.4 M244.2 110.7v2.4 M247.8 109.7v2.4 M251.4 107.8v2.4 M255.0 106.2v2.4 M258.6 105.9v2.4 M262.2 105.5v2.4 M265.8 105.0v2.4 M269.4 104.1v2.4 M273.0 102.5v2.4 M276.6 101.6v2.4 M280.2 99.5v2.4 M283.8 98.9v2.4 M287.4 98.9v2.4 M291.0 98.9v2.4 M294.6 96.0v2.4 M298.2 96.0v2.4 M301.8 96.0v2.4 M305.4 96.0v2.4 M309.0 96.0v2.4 M312.6 96.0v2.4 M316.2 96.0v2.4 M319.8 96.0v2.4 M323.4 96.0v2.4 M327.0 96.0v2.4 M330.6 96.0v2.4 M334.2 96.0v2.4 M337.8 96.0v2.4" stroke="#1a3260" stroke-width="0.9" fill="none" stroke-opacity="0.8"/>
<polyline points="393.8,122.4 395.2,122.4 395.2,120.5 396.7,120.5 396.7,118.6 398.1,118.6 398.1,116.0 399.6,116.0 399.6,113.5 401.5,113.5 401.5,112.8 403.4,112.8 403.4,112.1 405.4,112.1 405.4,111.3 407.3,111.3 407.3,110.6 409.2,110.6 409.2,109.9 411.0,109.9 411.0,109.6 412.8,109.6 412.8,109.3 414.6,109.3 414.6,109.0 416.4,109.0 416.4,108.7 418.3,108.7 418.3,108.4 420.1,108.4 420.1,108.1 421.9,108.1 421.9,107.8 423.7,107.8 423.7,107.5 425.5,107.5 425.5,107.3 427.3,107.3 427.3,107.1 429.1,107.1 429.1,106.9 430.9,106.9 430.9,106.7 432.8,106.7 432.8,106.4 434.6,106.4 434.6,106.2 436.4,106.2 436.4,106.0 438.2,106.0 438.2,105.8 440.0,105.8 440.0,105.6 461.2,105.4 505.8,105.4" fill="none" stroke="#ef9c2f" stroke-width="1.15" stroke-linejoin="round"/>
<path d="M399.8 112.2v2.4 M403.4 110.9v2.4 M407.0 109.5v2.4 M410.6 108.5v2.4 M414.2 107.9v2.4 M417.8 107.3v2.4 M421.4 106.7v2.4 M425.0 106.1v2.4 M428.6 105.7v2.4 M432.2 105.3v2.4 M435.8 104.9v2.4 M439.4 104.5v2.4 M443.0 104.4v2.4 M446.6 104.3v2.4 M450.2 104.3v2.4 M453.8 104.3v2.4 M457.4 104.2v2.4 M461.0 104.2v2.4 M464.6 104.2v2.4 M468.2 104.2v2.4 M471.8 104.2v2.4 M475.4 104.2v2.4 M479.0 104.2v2.4 M482.6 104.2v2.4 M486.2 104.2v2.4 M489.8 104.2v2.4 M493.4 104.2v2.4 M497.0 104.2v2.4 M500.6 104.2v2.4 M504.2 104.2v2.4" stroke="#c07010" stroke-width="0.9" fill="none" stroke-opacity="0.8"/>
<polyline points="393.8,122.4 395.2,122.4 395.2,121.7 396.7,121.7 396.7,121.0 398.1,121.0 398.1,120.0 399.6,120.0 399.6,119.0 401.2,119.0 401.2,118.5 402.8,118.5 402.8,118.1 404.4,118.1 404.4,117.6 406.2,117.6 406.2,117.4 407.9,117.4 407.9,117.1 409.7,117.1 409.7,116.9 411.5,116.9 411.5,116.7 413.2,116.7 413.2,116.4 415.0,116.4 415.0,116.2 416.7,116.2 416.7,115.8 418.5,115.8 418.5,115.4 420.2,115.4 420.2,115.0 422.0,115.0 422.0,114.6 423.7,114.6 423.7,114.2 425.6,114.2 425.6,113.7 427.4,113.7 427.4,113.2 429.3,113.2 429.3,112.8 431.1,112.8 431.1,112.3 433.0,112.3 433.0,111.8 434.8,111.8 434.8,111.5 436.5,111.5 436.5,111.1 438.2,111.1 438.2,110.8 440.0,110.8 440.0,110.4 441.7,110.4 441.7,110.3 443.3,110.3 443.3,110.3 445.0,110.3 445.0,110.2 446.7,110.2 446.7,110.1 448.3,110.1 448.3,110.1 450.0,110.1 450.0,110.0 501.2,110.0" fill="none" stroke="#55a94f" stroke-width="1.15" stroke-linejoin="round"/>
<path d="M399.8 117.7v2.4 M403.4 116.7v2.4 M407.0 116.1v2.4 M410.6 115.6v2.4 M414.2 115.1v2.4 M417.8 114.4v2.4 M421.4 113.5v2.4 M425.0 112.7v2.4 M428.6 111.7v2.4 M432.2 110.8v2.4 M435.8 110.0v2.4 M439.4 109.3v2.4 M443.0 109.1v2.4 M446.6 108.9v2.4 M450.2 108.8v2.4 M453.8 108.8v2.4 M457.4 108.8v2.4 M461.0 108.8v2.4 M464.6 108.8v2.4 M468.2 108.8v2.4 M471.8 108.8v2.4 M475.4 108.8v2.4 M479.0 108.8v2.4 M482.6 108.8v2.4 M486.2 108.8v2.4 M489.8 108.8v2.4 M493.4 108.8v2.4 M497.0 108.8v2.4 M500.6 108.8v2.4" stroke="#2f7a2c" stroke-width="0.9" fill="none" stroke-opacity="0.8"/>
<polyline points="393.8,122.4 395.2,122.4 395.2,120.2 396.7,120.2 396.7,118.1 398.1,118.1 398.1,116.2 399.6,116.2 399.6,114.2 401.2,114.2 401.2,113.7 402.8,113.7 402.8,113.3 404.4,113.3 404.4,112.8 406.0,112.8 406.0,112.2 407.6,112.2 407.6,111.5 409.2,111.5 409.2,110.9 411.1,110.9 411.1,110.4 413.1,110.4 413.1,109.9 415.0,109.9 415.0,109.4 416.7,109.4 416.7,109.2 418.5,109.2 418.5,109.0 420.2,109.0 420.2,108.9 422.0,108.9 422.0,108.7 423.7,108.7 423.7,108.5 425.5,108.5 425.5,108.2 427.3,108.2 427.3,108.0 429.1,108.0 429.1,107.7 430.9,107.7 430.9,107.4 432.8,107.4 432.8,107.2 434.6,107.2 434.6,106.9 436.4,106.9 436.4,106.6 438.2,106.6 438.2,106.4 440.0,106.4 440.0,106.1 442.1,106.1 442.1,105.6 444.2,105.6 444.2,105.1 445.7,105.1 445.7,104.4 447.3,104.4 447.3,103.8 448.8,103.8 448.8,103.1 499.6,103.1" fill="none" stroke="#c42a40" stroke-width="1.15" stroke-linejoin="round"/>
<path d="M399.8 112.9v2.4 M403.4 111.9v2.4 M407.0 110.6v2.4 M410.6 109.3v2.4 M414.2 108.4v2.4 M417.8 107.9v2.4 M421.4 107.5v2.4 M425.0 107.1v2.4 M428.6 106.6v2.4 M432.2 106.0v2.4 M435.8 105.5v2.4 M439.4 105.0v2.4 M443.0 104.2v2.4 M446.6 102.9v2.4 M450.2 101.9v2.4 M453.8 101.9v2.4 M457.4 101.9v2.4 M461.0 101.9v2.4 M464.6 101.9v2.4 M468.2 101.9v2.4 M471.8 101.9v2.4 M475.4 101.9v2.4 M479.0 101.9v2.4 M482.6 101.9v2.4 M486.2 101.9v2.4 M489.8 101.9v2.4 M493.4 101.9v2.4 M497.0 101.9v2.4" stroke="#8a1828" stroke-width="0.9" fill="none" stroke-opacity="0.8"/>
<polyline points="393.8,122.4 395.2,122.4 395.2,120.5 396.7,120.5 396.7,118.6 398.1,118.6 398.1,117.2 399.6,117.2 399.6,115.7 401.2,115.7 401.2,115.4 402.8,115.4 402.8,115.0 404.4,115.0 404.4,114.7 406.0,114.7 406.0,114.1 407.6,114.1 407.6,113.4 409.2,113.4 409.2,112.8 411.1,112.8 411.1,112.3 413.1,112.3 413.1,111.8 415.0,111.8 415.0,111.3 416.7,111.3 416.7,111.1 418.5,111.1 418.5,110.9 420.2,110.9 420.2,110.8 422.0,110.8 422.0,110.6 423.7,110.6 423.7,110.4 425.5,110.4 425.5,110.3 427.3,110.3 427.3,110.2 429.1,110.2 429.1,110.1 430.9,110.1 430.9,110.0 432.8,110.0 432.8,110.0 434.6,110.0 434.6,109.9 436.4,109.9 436.4,109.8 438.2,109.8 438.2,109.7 440.0,109.7 440.0,109.6 441.9,109.6 441.9,109.6 443.7,109.6 443.7,109.5 445.6,109.5 445.6,109.5 447.4,109.5 447.4,109.5 449.3,109.5 449.3,109.4 451.1,109.4 451.1,109.4 453.0,109.4 453.0,109.3 454.8,109.3 454.8,109.3 456.7,109.3 456.7,109.3 458.5,109.3 458.5,109.2 460.4,109.2 460.4,109.2 462.7,109.2 462.7,106.9 507.3,106.9" fill="none" stroke="#24457a" stroke-width="1.15" stroke-linejoin="round"/>
<path d="M399.8 114.5v2.4 M403.4 113.7v2.4 M407.0 112.5v2.4 M410.6 111.2v2.4 M414.2 110.3v2.4 M417.8 109.8v2.4 M421.4 109.4v2.4 M425.0 109.1v2.4 M428.6 109.0v2.4 M432.2 108.8v2.4 M435.8 108.6v2.4 M439.4 108.4v2.4 M443.0 108.3v2.4 M446.6 108.3v2.4 M450.2 108.2v2.4 M453.8 108.1v2.4 M457.4 108.1v2.4 M461.0 107.4v2.4 M464.6 105.7v2.4 M468.2 105.7v2.4 M471.8 105.7v2.4 M475.4 105.7v2.4 M479.0 105.7v2.4 M482.6 105.7v2.4 M486.2 105.7v2.4 M489.8 105.7v2.4 M493.4 105.7v2.4 M497.0 105.7v2.4 M500.6 105.7v2.4 M504.2 105.7v2.4" stroke="#1a3260" stroke-width="0.9" fill="none" stroke-opacity="0.8"/>
<polyline points="58.3,213.5 60.0,213.5 60.0,213.8 61.8,213.8 61.8,214.2 63.5,214.2 63.5,214.6 65.2,214.6 65.2,214.9 67.2,214.9 67.2,215.6 69.2,215.6 69.2,216.4 71.3,216.4 71.3,217.1 73.3,217.1 73.3,217.8 75.2,217.8 75.2,218.8 77.2,218.8 77.2,219.7 79.1,219.7 79.1,220.7 81.0,220.7 81.0,221.7 82.9,221.7 82.9,222.6 84.8,222.6 84.8,223.6 86.4,223.6 86.4,223.8 88.0,223.8 88.0,224.0 89.7,224.0 89.7,224.3 91.3,224.3 91.3,224.5 92.9,224.5 92.9,224.7 94.7,224.7 94.7,224.8 96.6,224.8 96.6,224.9 98.4,224.9 98.4,225.1 100.3,225.1 100.3,225.2 102.1,225.2 102.1,225.3 103.8,225.3 103.8,225.5 105.6,225.5 105.6,225.6 107.3,225.6 107.3,225.8 109.0,225.8 109.0,225.9 110.8,225.9 110.8,226.1 112.5,226.1 112.5,226.2 114.3,226.2 114.3,226.3 116.0,226.3 116.0,226.5 117.8,226.5 117.8,226.8 119.5,226.8 119.5,227.0 121.3,227.0 121.3,227.2 123.1,227.2 123.1,227.5 124.9,227.5 124.9,227.8 126.6,227.8 126.6,228.0 128.4,228.0 128.4,228.2 130.2,228.2 130.2,228.5 132.0,228.5 132.0,228.7 133.9,228.7 133.9,228.8 135.8,228.8 135.8,229.0 137.6,229.0 137.6,229.2 139.4,229.2 139.4,229.3 141.3,229.3 141.3,229.5 143.2,229.5 143.2,229.6 145.0,229.6 145.0,229.8 171.9,230.1" fill="none" stroke="#55a94f" stroke-width="1.15" stroke-linejoin="round"/>
<path d="M64.3 213.5v2.4 M67.9 214.7v2.4 M71.5 216.0v2.4 M75.1 217.5v2.4 M78.7 219.3v2.4 M82.3 221.1v2.4 M85.9 222.5v2.4 M89.5 223.0v2.4 M93.1 223.5v2.4 M96.7 223.7v2.4 M100.3 224.0v2.4 M103.9 224.3v2.4 M107.5 224.6v2.4 M111.1 224.9v2.4 M114.7 225.2v2.4 M118.3 225.6v2.4 M121.9 226.1v2.4 M125.5 226.6v2.4 M129.1 227.1v2.4 M132.7 227.5v2.4 M136.3 227.8v2.4 M139.9 228.2v2.4 M143.5 228.5v2.4 M147.1 228.6v2.4 M150.7 228.7v2.4 M154.3 228.7v2.4 M157.9 228.7v2.4 M161.5 228.8v2.4 M165.1 228.8v2.4 M168.7 228.9v2.4" stroke="#2f7a2c" stroke-width="0.9" fill="none" stroke-opacity="0.8"/>
<polyline points="58.3,213.5 60.1,213.5 60.1,213.6 62.0,213.6 62.0,213.7 63.8,213.7 63.8,213.8 65.7,213.8 65.7,213.9 67.5,213.9 67.5,214.0 69.4,214.0 69.4,214.4 71.4,214.4 71.4,214.9 73.3,214.9 73.3,215.3 75.2,215.3 75.2,215.7 77.2,215.7 77.2,216.2 79.1,216.2 79.1,216.6 81.0,216.6 81.0,217.1 82.9,217.1 82.9,217.6 84.8,217.6 84.8,218.1 86.8,218.1 86.8,218.5 88.7,218.5 88.7,219.0 90.6,219.0 90.6,219.5 92.5,219.5 92.5,219.9 94.4,219.9 94.4,220.3 96.3,220.3 96.3,220.8 98.3,220.8 98.3,221.2 100.2,221.2 100.2,221.6 102.1,221.6 102.1,222.0 103.8,222.0 103.8,222.4 105.6,222.4 105.6,222.8 107.3,222.8 107.3,223.2 109.0,223.2 109.0,223.7 110.8,223.7 110.8,224.1 112.5,224.1 112.5,224.5 114.3,224.5 114.3,224.9 116.0,224.9 116.0,225.3 117.8,225.3 117.8,225.6 119.5,225.6 119.5,225.9 121.2,225.9 121.2,226.1 123.0,226.1 123.0,226.4 124.8,226.4 124.8,226.7 126.5,226.7 126.5,226.9 128.2,226.9 128.2,227.2 130.0,227.2 130.0,227.5 131.9,227.5 131.9,227.8 133.8,227.8 133.8,228.1 135.6,228.1 135.6,228.4 137.5,228.4 137.5,228.7 139.4,228.7 139.4,228.9 141.2,228.9 141.2,229.2 143.1,229.2 143.1,229.5 145.0,229.5 145.0,229.8 172.6,229.8" fill="none" stroke="#ef9c2f" stroke-width="1.15" stroke-linejoin="round"/>
<path d="M64.3 212.6v2.4 M67.9 212.9v2.4 M71.5 213.7v2.4 M75.1 214.5v2.4 M78.7 215.3v2.4 M82.3 216.2v2.4 M85.9 217.1v2.4 M89.5 218.0v2.4 M93.1 218.8v2.4 M96.7 219.6v2.4 M100.3 220.4v2.4 M103.9 221.2v2.4 M107.5 222.1v2.4 M111.1 222.9v2.4 M114.7 223.8v2.4 M118.3 224.5v2.4 M121.9 225.0v2.4 M125.5 225.6v2.4 M129.1 226.2v2.4 M132.7 226.7v2.4 M136.3 227.3v2.4 M139.9 227.8v2.4 M143.5 228.4v2.4 M147.1 228.6v2.4 M150.7 228.6v2.4 M154.3 228.6v2.4 M157.9 228.6v2.4 M161.5 228.6v2.4 M165.1 228.6v2.4 M168.7 228.6v2.4 M172.3 228.6v2.4" stroke="#c07010" stroke-width="0.9" fill="none" stroke-opacity="0.8"/>
<polyline points="58.3,213.5 60.1,213.5 60.1,213.7 62.0,213.7 62.0,213.8 63.8,213.8 63.8,214.0 65.7,214.0 65.7,214.1 67.5,214.1 67.5,214.3 69.4,214.3 69.4,214.8 71.4,214.8 71.4,215.3 73.3,215.3 73.3,215.8 75.2,215.8 75.2,216.2 77.2,216.2 77.2,216.7 79.1,216.7 79.1,217.2 81.0,217.2 81.0,217.7 82.9,217.7 82.9,218.2 84.8,218.2 84.8,218.6 86.8,218.6 86.8,219.1 88.7,219.1 88.7,219.6 90.6,219.6 90.6,220.1 92.5,220.1 92.5,220.5 94.4,220.5 94.4,220.9 96.3,220.9 96.3,221.2 98.3,221.2 98.3,221.6 100.2,221.6 100.2,222.0 102.1,222.0 102.1,222.4 103.8,222.4 103.8,222.6 105.6,222.6 105.6,222.8 107.3,222.8 107.3,223.0 109.0,223.0 109.0,223.2 110.8,223.2 110.8,223.5 112.5,223.5 112.5,223.7 114.3,223.7 114.3,223.9 116.0,223.9 116.0,224.1 117.9,224.1 117.9,224.5 119.8,224.5 119.8,224.9 121.6,224.9 121.6,225.4 123.5,225.4 123.5,225.8 125.3,225.8 125.3,226.0 127.1,226.0 127.1,226.2 128.8,226.2 128.8,226.4 130.6,226.4 130.6,226.7 132.4,226.7 132.4,226.9 134.2,226.9 134.2,227.1 136.0,227.1 136.0,227.4 137.8,227.4 137.8,227.8 139.6,227.8 139.6,228.1 141.4,228.1 141.4,228.5 143.2,228.5 143.2,228.8 145.0,228.8 145.0,229.2 146.7,229.2 146.7,229.3 148.3,229.3 148.3,229.4 150.0,229.4 150.0,229.5" fill="none" stroke="#c42a40" stroke-width="1.15" stroke-linejoin="round"/>
<path d="M64.3 212.8v2.4 M67.9 213.2v2.4 M71.5 214.1v2.4 M75.1 215.0v2.4 M78.7 215.9v2.4 M82.3 216.8v2.4 M85.9 217.7v2.4 M89.5 218.6v2.4 M93.1 219.4v2.4 M96.7 220.1v2.4 M100.3 220.8v2.4 M103.9 221.4v2.4 M107.5 221.9v2.4 M111.1 222.3v2.4 M114.7 222.7v2.4 M118.3 223.4v2.4 M121.9 224.2v2.4 M125.5 224.8v2.4 M129.1 225.3v2.4 M132.7 225.7v2.4 M136.3 226.3v2.4 M139.9 227.0v2.4 M143.5 227.7v2.4 M147.1 228.1v2.4" stroke="#8a1828" stroke-width="0.9" fill="none" stroke-opacity="0.8"/>
<polyline points="58.3,213.5 60.6,213.5 60.6,216.2 62.9,216.2 62.9,218.8 65.2,218.8 65.2,221.5 67.5,221.5 67.5,224.0 69.8,224.0 69.8,226.2 72.1,226.2 72.1,227.8 73.8,227.8 73.8,228.6 75.5,228.6 75.5,229.4 77.3,229.4 77.3,230.0 79.1,230.0 79.1,230.6 80.9,230.6 80.9,231.2 82.8,231.2 82.8,231.7 84.6,231.7 84.6,232.3 86.5,232.3 86.5,232.8 88.3,232.8 88.3,233.4 90.1,233.4 90.1,233.9 92.0,233.9 92.0,234.3 93.8,234.3 93.8,234.8 95.7,234.8 95.7,235.2 97.5,235.2 97.5,235.7 99.2,235.7 99.2,236.1 101.0,236.1 101.0,236.6 102.7,236.6 102.7,237.0 104.4,237.0 104.4,237.4 106.3,237.4 106.3,238.6 108.1,238.6 108.1,239.7 110.0,239.7 110.0,240.9 115.4,240.9 115.4,243.2 126.2,243.2 126.2,244.9 143.6,244.9 143.6,246.5 152.4,246.5 152.4,249.9 164.5,249.9" fill="none" stroke="#24457a" stroke-width="1.15" stroke-linejoin="round"/>
<path d="M64.3 219.2v2.4 M67.9 223.2v2.4 M71.5 226.2v2.4 M75.1 228.0v2.4 M78.7 229.3v2.4 M82.3 230.4v2.4 M85.9 231.5v2.4 M89.5 232.5v2.4 M93.1 233.4v2.4 M96.7 234.3v2.4 M100.3 235.2v2.4 M103.9 236.1v2.4 M107.5 238.1v2.4 M111.1 239.7v2.4 M114.7 239.7v2.4 M118.3 242.0v2.4 M121.9 242.0v2.4 M125.5 242.0v2.4 M129.1 243.7v2.4 M132.7 243.7v2.4 M136.3 243.7v2.4 M139.9 243.7v2.4 M143.5 243.7v2.4 M147.1 245.3v2.4 M150.7 245.3v2.4 M154.3 248.7v2.4 M157.9 248.7v2.4 M161.5 248.7v2.4" stroke="#1a3260" stroke-width="0.9" fill="none" stroke-opacity="0.8"/>
<polyline points="227.5,295.7 229.3,295.7 229.3,295.5 231.0,295.5 231.0,295.4 232.8,295.4 232.8,295.2 234.6,295.2 234.6,295.1 236.4,295.1 236.4,294.9 238.1,294.9 238.1,294.8 239.9,294.8 239.9,294.6 241.7,294.6 241.7,294.5 243.5,294.5 243.5,294.3 245.2,294.3 245.2,294.2 247.0,294.2 247.0,294.0 248.9,294.0 248.9,293.8 250.9,293.8 250.9,293.5 252.8,293.5 252.8,293.2 254.7,293.2 254.7,293.0 256.7,293.0 256.7,292.8 258.6,292.8 258.6,292.5 260.4,292.5 260.4,292.3 262.2,292.3 262.2,292.1 264.0,292.1 264.0,292.0 265.9,292.0 265.9,291.8 267.7,291.8 267.7,291.6 269.5,291.6 269.5,291.4 271.3,291.4 271.3,291.2 273.1,291.2 273.1,291.1 274.9,291.1 274.9,290.9 276.7,290.9 276.7,290.7 278.6,290.7 278.6,290.5 280.4,290.5 280.4,290.4 282.2,290.4 282.2,290.2 284.0,290.2 284.0,290.0 285.8,290.0 285.8,289.8 287.6,289.8 287.6,289.7 289.3,289.7 289.3,289.5 291.1,289.5 291.1,289.3 292.9,289.3 292.9,289.2 294.7,289.2 294.7,289.0 296.4,289.0 296.4,288.8 298.2,288.8 298.2,288.7 300.0,288.7 300.0,288.5 301.7,288.5 301.7,288.3 303.4,288.3 303.4,288.1 305.1,288.1 305.1,287.9 306.8,287.9 306.8,287.8 308.5,287.8 308.5,287.6 310.2,287.6 310.2,287.4 311.9,287.4 311.9,287.2 313.6,287.2 313.6,287.0 313.6,284.9 339.9,284.9" fill="none" stroke="#ef9c2f" stroke-width="1.15" stroke-linejoin="round"/>
<path d="M233.5 294.0v2.4 M237.1 293.7v2.4 M240.7 293.3v2.4 M244.3 293.0v2.4 M247.9 292.7v2.4 M251.5 292.2v2.4 M255.1 291.8v2.4 M258.7 291.3v2.4 M262.3 290.9v2.4 M265.9 290.6v2.4 M269.5 290.2v2.4 M273.1 289.9v2.4 M276.7 289.5v2.4 M280.3 289.2v2.4 M283.9 288.8v2.4 M287.5 288.5v2.4 M291.1 288.1v2.4 M294.7 287.8v2.4 M298.3 287.5v2.4 M301.9 287.1v2.4 M305.5 286.7v2.4 M309.1 286.3v2.4 M312.7 285.9v2.4 M316.3 283.7v2.4 M319.9 283.7v2.4 M323.5 283.7v2.4 M327.1 283.7v2.4 M330.7 283.7v2.4 M334.3 283.7v2.4 M337.9 283.7v2.4" stroke="#c07010" stroke-width="0.9" fill="none" stroke-opacity="0.8"/>
<polyline points="227.5,295.7 229.2,295.7 229.2,295.6 230.9,295.6 230.9,295.6 232.7,295.6 232.7,295.5 234.4,295.5 234.4,295.4 236.1,295.4 236.1,295.3 237.9,295.3 237.9,295.2 239.6,295.2 239.6,295.2 241.3,295.2 241.3,295.1 243.2,295.1 243.2,293.8 245.2,293.8 245.2,292.4 247.1,292.4 247.1,291.1 248.8,291.1 248.8,290.8 250.6,290.8 250.6,290.4 252.3,290.4 252.3,290.1 254.0,290.1 254.0,289.7 255.8,289.7 255.8,289.6 257.6,289.6 257.6,289.5 259.4,289.5 259.4,289.4 261.2,289.4 261.2,289.3 262.9,289.3 262.9,289.2 264.7,289.2 264.7,289.1 266.5,289.1 266.5,289.0 268.3,289.0 268.3,288.9 270.1,288.9 270.1,288.8 271.8,288.8 271.8,288.8 273.6,288.8 273.6,288.7 275.3,288.7 275.3,288.7 277.1,288.7 277.1,288.6 278.8,288.6 278.8,288.6 280.5,288.6 280.5,288.6 282.3,288.6 282.3,288.5 284.0,288.5 284.0,288.5 285.8,288.5 285.8,288.5 287.6,288.5 287.6,288.4 289.3,288.4 289.3,288.4 291.1,288.4 291.1,288.4 292.9,288.4 292.9,288.3 294.7,288.3 294.7,288.3 296.4,288.3 296.4,288.3 298.2,288.3 298.2,288.2 300.0,288.2 300.0,288.2 339.0,288.0" fill="none" stroke="#55a94f" stroke-width="1.15" stroke-linejoin="round"/>
<path d="M233.5 294.2v2.4 M237.1 294.1v2.4 M240.7 293.9v2.4 M244.3 291.8v2.4 M247.9 289.7v2.4 M251.5 289.0v2.4 M255.1 288.4v2.4 M258.7 288.2v2.4 M262.3 288.0v2.4 M265.9 287.8v2.4 M269.5 287.6v2.4 M273.1 287.5v2.4 M276.7 287.5v2.4 M280.3 287.4v2.4 M283.9 287.3v2.4 M287.5 287.2v2.4 M291.1 287.2v2.4 M294.7 287.1v2.4 M298.3 287.0v2.4 M301.9 287.0v2.4 M305.5 287.0v2.4 M309.1 287.0v2.4 M312.7 286.9v2.4 M316.3 286.9v2.4 M319.9 286.9v2.4 M323.5 286.9v2.4 M327.1 286.9v2.4 M330.7 286.8v2.4 M334.3 286.8v2.4 M337.9 286.8v2.4" stroke="#2f7a2c" stroke-width="0.9" fill="none" stroke-opacity="0.8"/>
<polyline points="227.5,295.7 229.2,295.7 229.2,295.6 230.9,295.6 230.9,295.6 232.7,295.6 232.7,295.5 234.4,295.5 234.4,295.4 236.1,295.4 236.1,295.3 237.9,295.3 237.9,295.2 239.6,295.2 239.6,295.2 241.3,295.2 241.3,295.1 243.2,295.1 243.2,294.3 245.2,294.3 245.2,293.6 247.1,293.6 247.1,292.8 249.0,292.8 249.0,292.6 250.9,292.6 250.9,292.4 252.9,292.4 252.9,292.2 254.8,292.2 254.8,292.0 256.7,292.0 256.7,291.8 258.6,291.8 258.6,291.6 260.5,291.6 260.5,291.4 262.4,291.4 262.4,291.2 264.4,291.2 264.4,291.1 266.3,291.1 266.3,290.9 268.2,290.9 268.2,290.7 270.1,290.7 270.1,290.5 271.8,290.5 271.8,290.4 273.6,290.4 273.6,290.4 275.3,290.4 275.3,290.3 277.1,290.3 277.1,290.2 278.8,290.2 278.8,290.1 280.5,290.1 280.5,290.0 282.3,290.0 282.3,290.0 284.0,290.0 284.0,289.9 285.8,289.9 285.8,289.8 287.6,289.8 287.6,289.7 289.3,289.7 289.3,289.6 291.1,289.6 291.1,289.5 292.9,289.5 292.9,289.4 294.7,289.4 294.7,289.3 296.4,289.3 296.4,289.2 298.2,289.2 298.2,289.1 300.0,289.1 300.0,289.0 301.7,289.0 301.7,288.9 303.4,288.9 303.4,288.9 305.1,288.9 305.1,288.8 306.8,288.8 306.8,288.8 308.5,288.8 308.5,288.7 310.2,288.7 310.2,288.6 311.9,288.6 311.9,288.6 313.6,288.6 313.6,288.5 313.6,286.9 339.2,286.9" fill="none" stroke="#c42a40" stroke-width="1.15" stroke-linejoin="round"/>
<path d="M233.5 294.2v2.4 M237.1 294.1v2.4 M240.7 293.9v2.4 M244.3 292.7v2.4 M247.9 291.5v2.4 M251.5 291.1v2.4 M255.1 290.8v2.4 M258.7 290.4v2.4 M262.3 290.0v2.4 M265.9 289.7v2.4 M269.5 289.4v2.4 M273.1 289.2v2.4 M276.7 289.0v2.4 M280.3 288.9v2.4 M283.9 288.7v2.4 M287.5 288.5v2.4 M291.1 288.3v2.4 M294.7 288.1v2.4 M298.3 287.9v2.4 M301.9 287.7v2.4 M305.5 287.6v2.4 M309.1 287.5v2.4 M312.7 287.3v2.4 M316.3 285.7v2.4 M319.9 285.7v2.4 M323.5 285.7v2.4 M327.1 285.7v2.4 M330.7 285.7v2.4 M334.3 285.7v2.4 M337.9 285.7v2.4" stroke="#8a1828" stroke-width="0.9" fill="none" stroke-opacity="0.8"/>
<polyline points="227.5,295.7 229.2,295.7 229.2,293.6 230.9,293.6 230.9,291.6 232.4,291.6 232.4,290.5 234.0,290.5 234.0,289.3 235.5,289.3 235.5,288.2 237.4,288.2 237.4,287.2 239.4,287.2 239.4,286.3 241.3,286.3 241.3,285.3 243.2,285.3 243.2,284.7 245.2,284.7 245.2,284.2 247.1,284.2 247.1,283.6 249.1,283.6 249.1,283.0 251.1,283.0 251.1,282.5 253.1,282.5 253.1,281.9 255.1,281.9 255.1,281.3 257.0,281.3 257.0,280.8 258.8,280.8 258.8,280.4 260.7,280.4 260.7,279.9 262.5,279.9 262.5,279.5 264.4,279.5 264.4,279.0 266.2,279.0 266.2,278.7 268.1,278.7 268.1,278.4 269.9,278.4 269.9,278.1 271.8,278.1 271.8,277.8 273.6,277.8 273.6,277.5 275.3,277.5 275.3,277.4 277.1,277.4 277.1,277.3 278.8,277.3 278.8,277.2 280.6,277.2 280.6,277.1 282.3,277.1 282.3,277.0 283.6,277.0 283.6,275.5 285.4,275.5 285.4,274.2 287.2,274.2 287.2,274.0 289.0,274.0 289.0,273.9 290.8,273.9 290.8,273.7 292.6,273.7 292.6,273.5 294.4,273.5 294.4,273.4 296.2,273.4 296.2,273.2 321.3,273.2 321.5,270.0 332.7,270.0" fill="none" stroke="#24457a" stroke-width="1.15" stroke-linejoin="round"/>
<path d="M233.5 288.5v2.4 M237.1 286.2v2.4 M240.7 284.4v2.4 M244.3 283.2v2.4 M247.9 282.2v2.4 M251.5 281.1v2.4 M255.1 280.1v2.4 M258.7 279.2v2.4 M262.3 278.3v2.4 M265.9 277.6v2.4 M269.5 277.0v2.4 M273.1 276.4v2.4 M276.7 276.1v2.4 M280.3 275.9v2.4 M283.9 274.1v2.4 M287.5 272.8v2.4 M291.1 272.5v2.4 M294.7 272.1v2.4 M298.3 272.0v2.4 M301.9 272.0v2.4 M305.5 272.0v2.4 M309.1 272.0v2.4 M312.7 272.0v2.4 M316.3 272.0v2.4 M319.9 272.0v2.4 M323.5 268.8v2.4 M327.1 268.8v2.4 M330.7 268.8v2.4" stroke="#1a3260" stroke-width="0.9" fill="none" stroke-opacity="0.8"/>
<polyline points="394.0,296.0 395.7,296.0 395.7,295.6 397.5,295.6 397.5,295.2 399.2,295.2 399.2,294.8 400.7,294.8 400.7,294.4 402.3,294.4 402.3,294.0 403.8,294.0 403.8,293.6 405.7,293.6 405.7,293.1 407.5,293.1 407.5,292.7 409.4,292.7 409.4,292.2 411.2,292.2 411.2,291.8 413.1,291.8 413.1,291.3 415.0,291.3 415.0,291.1 416.9,291.1 416.9,290.9 418.9,290.9 418.9,290.8 420.8,290.8 420.8,290.6 422.7,290.6 422.7,290.4 424.6,290.4 424.6,290.2 426.5,290.2 426.5,289.9 428.4,289.9 428.4,289.6 430.4,289.6 430.4,289.4 432.3,289.4 432.3,289.1 434.2,289.1 434.2,288.8 436.1,288.8 436.1,288.5 437.8,288.5 437.8,288.4 439.6,288.4 439.6,288.4 441.3,288.4 441.3,288.3 443.1,288.3 443.1,288.2 444.8,288.2 444.8,288.1 446.5,288.1 446.5,288.0 448.3,288.0 448.3,288.0 450.0,288.0 450.0,287.9 451.8,287.9 451.8,287.8 453.5,287.8 453.5,287.7 455.2,287.7 455.2,287.6 457.0,287.6 457.0,287.5 458.8,287.5 458.8,287.4 460.5,287.4 460.5,287.4 462.2,287.4 462.2,287.3 464.0,287.3 464.0,287.2 465.8,287.2 465.8,287.1 467.5,287.1 467.5,287.0 469.2,287.0 469.2,286.9 471.0,286.9 471.0,286.8 472.8,286.8 472.8,286.8 474.7,286.8 474.7,286.8 476.5,286.8 476.5,286.7 478.4,286.7 478.4,286.7 480.2,286.7 480.2,286.7 482.1,286.7 482.1,286.7 483.9,286.7 483.9,286.6 485.8,286.6 485.8,286.6 487.6,286.6 487.6,286.6 489.4,286.6 489.4,286.6 491.3,286.6 491.3,286.6 493.1,286.6 493.1,286.5 495.0,286.5 495.0,286.5 496.8,286.5 496.8,286.5 498.7,286.5 498.7,286.5 500.5,286.5 500.5,286.4 502.4,286.4 502.4,286.4 504.2,286.4 504.2,286.4" fill="none" stroke="#ef9c2f" stroke-width="1.15" stroke-linejoin="round"/>
<path d="M400.0 293.4v2.4 M403.6 292.5v2.4 M407.2 291.6v2.4 M410.8 290.7v2.4 M414.4 290.0v2.4 M418.0 289.6v2.4 M421.6 289.3v2.4 M425.2 288.9v2.4 M428.8 288.4v2.4 M432.4 287.8v2.4 M436.0 287.3v2.4 M439.6 287.1v2.4 M443.2 287.0v2.4 M446.8 286.8v2.4 M450.4 286.7v2.4 M454.0 286.5v2.4 M457.6 286.3v2.4 M461.2 286.1v2.4 M464.8 285.9v2.4 M468.4 285.7v2.4 M472.0 285.6v2.4 M475.6 285.5v2.4 M479.2 285.5v2.4 M482.8 285.5v2.4 M486.4 285.4v2.4 M490.0 285.4v2.4 M493.6 285.3v2.4 M497.2 285.3v2.4 M500.8 285.2v2.4" stroke="#c07010" stroke-width="0.9" fill="none" stroke-opacity="0.8"/>
<polyline points="394.0,296.0 396.1,296.0 396.1,294.5 398.1,294.5 398.1,293.0 399.9,293.0 399.9,292.4 401.8,292.4 401.8,291.8 403.6,291.8 403.6,291.2 405.5,291.2 405.5,290.6 407.3,290.6 407.3,290.0 409.0,290.0 409.0,289.7 410.8,289.7 410.8,289.5 412.5,289.5 412.5,289.2 414.2,289.2 414.2,288.9 416.0,288.9 416.0,288.6 417.7,288.6 417.7,288.4 419.4,288.4 419.4,288.1 421.1,288.1 421.1,287.8 422.9,287.8 422.9,287.6 424.6,287.6 424.6,287.3 426.3,287.3 426.3,287.2 428.1,287.2 428.1,287.1 429.8,287.1 429.8,286.9 431.5,286.9 431.5,286.8 433.2,286.8 433.2,286.7 435.0,286.7 435.0,286.6 436.7,286.6 436.7,286.5 438.4,286.5 438.4,286.3 440.2,286.3 440.2,286.2 441.9,286.2 441.9,286.1 450.0,286.1 451.8,286.1 451.8,286.0 453.6,286.0 453.6,285.9 455.5,285.9 455.5,285.8 457.3,285.8 457.3,285.7 459.1,285.7 459.1,285.6 460.9,285.6 460.9,285.5 462.7,285.5 462.7,285.4 464.5,285.4 464.5,285.3 466.4,285.3 466.4,285.2 468.2,285.2 468.2,285.1 470.0,285.1 470.0,285.0 471.7,285.0 471.7,284.9 473.4,284.9 473.4,284.9 475.1,284.9 475.1,284.8 476.8,284.8 476.8,284.8 478.6,284.8 478.6,284.7 480.3,284.7 480.3,284.7 482.0,284.7 482.0,284.6 483.7,284.6 483.7,284.6 485.4,284.6 485.4,284.5 500.8,284.5" fill="none" stroke="#55a94f" stroke-width="1.15" stroke-linejoin="round"/>
<path d="M400.0 291.2v2.4 M403.6 290.0v2.4 M407.2 288.8v2.4 M410.8 288.3v2.4 M414.4 287.7v2.4 M418.0 287.1v2.4 M421.6 286.6v2.4 M425.2 286.1v2.4 M428.8 285.8v2.4 M432.4 285.6v2.4 M436.0 285.3v2.4 M439.6 285.1v2.4 M443.2 284.9v2.4 M446.8 284.9v2.4 M450.4 284.9v2.4 M454.0 284.7v2.4 M457.6 284.5v2.4 M461.2 284.3v2.4 M464.8 284.1v2.4 M468.4 283.9v2.4 M472.0 283.7v2.4 M475.6 283.6v2.4 M479.2 283.5v2.4 M482.8 283.4v2.4 M486.4 283.3v2.4 M490.0 283.3v2.4 M493.6 283.3v2.4 M497.2 283.3v2.4 M500.8 283.3v2.4" stroke="#2f7a2c" stroke-width="0.9" fill="none" stroke-opacity="0.8"/>
<polyline points="394.0,296.0 396.1,296.0 396.1,293.9 398.1,293.9 398.1,291.9 399.8,291.9 399.8,291.0 401.5,291.0 401.5,290.2 403.4,290.2 403.4,289.6 405.4,289.6 405.4,289.1 407.3,289.1 407.3,288.5 409.2,288.5 409.2,288.1 411.2,288.1 411.2,287.7 413.1,287.7 413.1,287.3 415.0,287.3 415.0,287.1 416.9,287.1 416.9,286.9 418.9,286.9 418.9,286.7 420.8,286.7 420.8,286.5 422.7,286.5 422.7,286.3 424.6,286.3 424.6,286.1 426.5,286.1 426.5,285.5 428.5,285.5 428.5,285.0 430.4,285.0 430.4,284.4 432.3,284.4 432.3,284.2 434.2,284.2 434.2,284.0 436.1,284.0 436.1,283.9 438.1,283.9 438.1,283.7 440.0,283.7 440.0,283.5 441.9,283.5 441.9,283.3 443.5,283.3 443.5,283.1 445.1,283.1 445.1,282.8 446.8,282.8 446.8,282.6 448.4,282.6 448.4,282.3 450.0,282.3 450.0,282.1 451.8,282.1 451.8,282.1 453.6,282.1 453.6,282.1 455.5,282.1 455.5,282.0 457.3,282.0 457.3,282.0 459.1,282.0 459.1,282.0 460.9,282.0 460.9,282.0 462.8,282.0 462.8,281.9 464.6,281.9 464.6,281.9 466.4,281.9 466.4,281.9 468.2,281.9 468.2,281.9 470.1,281.9 470.1,281.8 471.9,281.8 471.9,281.8 473.7,281.8 473.7,281.8 475.5,281.8 475.5,281.9 477.3,281.9 477.3,281.9 479.1,281.9 479.1,282.0 480.9,282.0 480.9,282.0 482.7,282.0 482.7,282.1 484.5,282.1 484.5,282.1 486.3,282.1 486.3,282.2 488.0,282.2 488.0,282.2 489.8,282.2 489.8,282.2 491.6,282.2 491.6,282.3 493.4,282.3 493.4,282.3 495.2,282.3 495.2,282.4 497.0,282.4 497.0,282.4 498.8,282.4 498.8,282.5 500.6,282.5 500.6,282.5 502.4,282.5 502.4,282.6 504.2,282.6 504.2,282.6" fill="none" stroke="#c42a40" stroke-width="1.15" stroke-linejoin="round"/>
<path d="M400.0 289.8v2.4 M403.6 288.4v2.4 M407.2 287.3v2.4 M410.8 286.6v2.4 M414.4 286.0v2.4 M418.0 285.6v2.4 M421.6 285.2v2.4 M425.2 284.7v2.4 M428.8 283.7v2.4 M432.4 283.0v2.4 M436.0 282.7v2.4 M439.6 282.3v2.4 M443.2 281.9v2.4 M446.8 281.4v2.4 M450.4 280.9v2.4 M454.0 280.8v2.4 M457.6 280.8v2.4 M461.2 280.7v2.4 M464.8 280.7v2.4 M468.4 280.6v2.4 M472.0 280.6v2.4 M475.6 280.7v2.4 M479.2 280.8v2.4 M482.8 280.9v2.4 M486.4 281.0v2.4 M490.0 281.0v2.4 M493.6 281.1v2.4 M497.2 281.2v2.4 M500.8 281.3v2.4" stroke="#8a1828" stroke-width="0.9" fill="none" stroke-opacity="0.8"/>
<polyline points="394.0,296.0 396.1,296.0 396.1,293.9 398.1,293.9 398.1,291.9 399.8,291.9 399.8,291.0 401.5,291.0 401.5,290.2 403.4,290.2 403.4,289.6 405.4,289.6 405.4,289.1 407.3,289.1 407.3,288.5 409.2,288.5 409.2,288.1 411.2,288.1 411.2,287.7 413.1,287.7 413.1,287.3 415.0,287.3 415.0,287.1 416.9,287.1 416.9,286.9 418.9,286.9 418.9,286.7 420.8,286.7 420.8,286.5 422.7,286.5 422.7,286.3 424.6,286.3 424.6,286.1 426.5,286.1 426.5,285.5 428.5,285.5 428.5,285.0 430.4,285.0 430.4,284.4 432.3,284.4 432.3,284.2 434.2,284.2 434.2,284.0 436.1,284.0 436.1,283.9 438.1,283.9 438.1,283.7 440.0,283.7 440.0,283.5 441.9,283.5 441.9,283.3 443.5,283.3 443.5,283.2 445.1,283.2 445.1,283.1 446.8,283.1 446.8,282.9 448.4,282.9 448.4,282.8 450.0,282.8 450.0,282.7 451.8,282.7 451.8,282.7 453.6,282.7 453.6,282.6 455.5,282.6 455.5,282.6 457.3,282.6 457.3,282.5 459.1,282.5 459.1,282.5 460.9,282.5 460.9,282.4 462.8,282.4 462.8,282.4 464.6,282.4 464.6,282.4 466.4,282.4 466.4,282.3 468.2,282.3 468.2,282.3 470.1,282.3 470.1,282.2 471.9,282.2 471.9,282.2 471.9,280.8 498.8,280.8 498.8,281.9 506.0,281.9" fill="none" stroke="#24457a" stroke-width="1.15" stroke-linejoin="round"/>
<path d="M400.0 289.8v2.4 M403.6 288.4v2.4 M407.2 287.3v2.4 M410.8 286.6v2.4 M414.4 286.0v2.4 M418.0 285.6v2.4 M421.6 285.2v2.4 M425.2 284.7v2.4 M428.8 283.7v2.4 M432.4 283.0v2.4 M436.0 282.7v2.4 M439.6 282.3v2.4 M443.2 282.0v2.4 M446.8 281.7v2.4 M450.4 281.5v2.4 M454.0 281.4v2.4 M457.6 281.3v2.4 M461.2 281.2v2.4 M464.8 281.2v2.4 M468.4 281.1v2.4 M472.0 279.6v2.4 M475.6 279.6v2.4 M479.2 279.6v2.4 M482.8 279.6v2.4 M486.4 279.6v2.4 M490.0 279.6v2.4 M493.6 279.6v2.4 M497.2 279.6v2.4 M500.8 280.7v2.4 M504.4 280.7v2.4" stroke="#1a3260" stroke-width="0.9" fill="none" stroke-opacity="0.8"/>
<text x="26.900000000000002" y="158.3" font-size="6.5" fill="#222" stroke="#222" stroke-width="0.05" text-anchor="start" font-weight="normal" textLength="24.2" lengthAdjust="spacingAndGlyphs" >EASIX1y</text>
<text x="41.900000000000006" y="166.6" font-size="6.2" fill="#3a3a3a" stroke="#3a3a3a" stroke-width="0.05" text-anchor="start" font-weight="normal" >Q1:</text>
<text x="58.4" y="166.6" font-size="5.8" fill="#f4b974" text-anchor="middle" font-weight="normal" >152</text>
<text x="73.3" y="166.6" font-size="5.8" fill="#f4b974" text-anchor="middle" font-weight="normal" >126</text>
<text x="88.0" y="166.6" font-size="5.8" fill="#f4b974" text-anchor="middle" font-weight="normal" >101</text>
<text x="101.0" y="166.6" font-size="5.8" fill="#f4b974" text-anchor="middle" font-weight="normal" >86</text>
<text x="111.5" y="166.6" font-size="5.8" fill="#f4b974" text-anchor="middle" font-weight="normal" >69</text>
<text x="122.5" y="166.6" font-size="5.8" fill="#f4b974" text-anchor="middle" font-weight="normal" >58</text>
<text x="133.3" y="166.6" font-size="5.8" fill="#f4b974" text-anchor="middle" font-weight="normal" >41</text>
<text x="144.4" y="166.6" font-size="5.8" fill="#f4b974" text-anchor="middle" font-weight="normal" >25</text>
<text x="155.0" y="166.6" font-size="5.8" fill="#f4b974" text-anchor="middle" font-weight="normal" >13</text>
<text x="163.8" y="166.6" font-size="5.8" fill="#f4b974" text-anchor="middle" font-weight="normal" >5</text>
<text x="171.2" y="166.6" font-size="5.8" fill="#f4b974" text-anchor="middle" font-weight="normal" >0</text>
<text x="41.900000000000006" y="173.1" font-size="6.2" fill="#3a3a3a" stroke="#3a3a3a" stroke-width="0.05" text-anchor="start" font-weight="normal" >Q2:</text>
<text x="58.4" y="173.1" font-size="5.8" fill="#c4406a" text-anchor="middle" font-weight="normal" >152</text>
<text x="73.3" y="173.1" font-size="5.8" fill="#c4406a" text-anchor="middle" font-weight="normal" >121</text>
<text x="88.0" y="173.1" font-size="5.8" fill="#c4406a" text-anchor="middle" font-weight="normal" >95</text>
<text x="101.0" y="173.1" font-size="5.8" fill="#c4406a" text-anchor="middle" font-weight="normal" >76</text>
<text x="111.5" y="173.1" font-size="5.8" fill="#c4406a" text-anchor="middle" font-weight="normal" >58</text>
<text x="122.5" y="173.1" font-size="5.8" fill="#c4406a" text-anchor="middle" font-weight="normal" >39</text>
<text x="133.3" y="173.1" font-size="5.8" fill="#c4406a" text-anchor="middle" font-weight="normal" >24</text>
<text x="144.4" y="173.1" font-size="5.8" fill="#c4406a" text-anchor="middle" font-weight="normal" >15</text>
<text x="155.0" y="173.1" font-size="5.8" fill="#c4406a" text-anchor="middle" font-weight="normal" >4</text>
<text x="163.8" y="173.1" font-size="5.8" fill="#c4406a" text-anchor="middle" font-weight="normal" >1</text>
<text x="171.2" y="173.1" font-size="5.8" fill="#c4406a" text-anchor="middle" font-weight="normal" >0</text>
<text x="41.900000000000006" y="179.6" font-size="6.2" fill="#3a3a3a" stroke="#3a3a3a" stroke-width="0.05" text-anchor="start" font-weight="normal" >Q3:</text>
<text x="58.4" y="179.6" font-size="5.8" fill="#66ae62" text-anchor="middle" font-weight="normal" >150</text>
<text x="73.3" y="179.6" font-size="5.8" fill="#66ae62" text-anchor="middle" font-weight="normal" >119</text>
<text x="88.0" y="179.6" font-size="5.8" fill="#66ae62" text-anchor="middle" font-weight="normal" >87</text>
<text x="101.0" y="179.6" font-size="5.8" fill="#66ae62" text-anchor="middle" font-weight="normal" >61</text>
<text x="111.5" y="179.6" font-size="5.8" fill="#66ae62" text-anchor="middle" font-weight="normal" >42</text>
<text x="122.5" y="179.6" font-size="5.8" fill="#66ae62" text-anchor="middle" font-weight="normal" >26</text>
<text x="133.3" y="179.6" font-size="5.8" fill="#66ae62" text-anchor="middle" font-weight="normal" >20</text>
<text x="144.4" y="179.6" font-size="5.8" fill="#66ae62" text-anchor="middle" font-weight="normal" >12</text>
<text x="155.0" y="179.6" font-size="5.8" fill="#66ae62" text-anchor="middle" font-weight="normal" >8</text>
<text x="163.8" y="179.6" font-size="5.8" fill="#66ae62" text-anchor="middle" font-weight="normal" >3</text>
<text x="171.2" y="179.6" font-size="5.8" fill="#66ae62" text-anchor="middle" font-weight="normal" >0</text>
<text x="41.900000000000006" y="186.1" font-size="6.2" fill="#3a3a3a" stroke="#3a3a3a" stroke-width="0.05" text-anchor="start" font-weight="normal" >Q4:</text>
<text x="58.4" y="186.1" font-size="5.8" fill="#3f5590" text-anchor="middle" font-weight="normal" >152</text>
<text x="73.3" y="186.1" font-size="5.8" fill="#3f5590" text-anchor="middle" font-weight="normal" >109</text>
<text x="88.0" y="186.1" font-size="5.8" fill="#3f5590" text-anchor="middle" font-weight="normal" >77</text>
<text x="101.0" y="186.1" font-size="5.8" fill="#3f5590" text-anchor="middle" font-weight="normal" >51</text>
<text x="111.5" y="186.1" font-size="5.8" fill="#3f5590" text-anchor="middle" font-weight="normal" >34</text>
<text x="122.5" y="186.1" font-size="5.8" fill="#3f5590" text-anchor="middle" font-weight="normal" >25</text>
<text x="133.3" y="186.1" font-size="5.8" fill="#3f5590" text-anchor="middle" font-weight="normal" >18</text>
<text x="144.4" y="186.1" font-size="5.8" fill="#3f5590" text-anchor="middle" font-weight="normal" >8</text>
<text x="155.0" y="186.1" font-size="5.8" fill="#3f5590" text-anchor="middle" font-weight="normal" >5</text>
<text x="163.8" y="186.1" font-size="5.8" fill="#3f5590" text-anchor="middle" font-weight="normal" >4</text>
<text x="171.2" y="186.1" font-size="5.8" fill="#3f5590" text-anchor="middle" font-weight="normal" >1</text>
<text x="195.29999999999998" y="158.3" font-size="6.5" fill="#222" stroke="#222" stroke-width="0.05" text-anchor="start" font-weight="normal" textLength="24.2" lengthAdjust="spacingAndGlyphs" >EASIX1y</text>
<text x="210.29999999999998" y="166.6" font-size="6.2" fill="#3a3a3a" stroke="#3a3a3a" stroke-width="0.05" text-anchor="start" font-weight="normal" >Q1:</text>
<text x="227.7" y="166.6" font-size="5.8" fill="#f4b974" text-anchor="middle" font-weight="normal" >152</text>
<text x="243.0" y="166.6" font-size="5.8" fill="#f4b974" text-anchor="middle" font-weight="normal" >113</text>
<text x="256.2" y="166.6" font-size="5.8" fill="#f4b974" text-anchor="middle" font-weight="normal" >88</text>
<text x="266.9" y="166.6" font-size="5.8" fill="#f4b974" text-anchor="middle" font-weight="normal" >76</text>
<text x="278.2" y="166.6" font-size="5.8" fill="#f4b974" text-anchor="middle" font-weight="normal" >63</text>
<text x="289.4" y="166.6" font-size="5.8" fill="#f4b974" text-anchor="middle" font-weight="normal" >50</text>
<text x="300.7" y="166.6" font-size="5.8" fill="#f4b974" text-anchor="middle" font-weight="normal" >37</text>
<text x="311.9" y="166.6" font-size="5.8" fill="#f4b974" text-anchor="middle" font-weight="normal" >23</text>
<text x="323.1" y="166.6" font-size="5.8" fill="#f4b974" text-anchor="middle" font-weight="normal" >11</text>
<text x="333.5" y="166.6" font-size="5.8" fill="#f4b974" text-anchor="middle" font-weight="normal" >4</text>
<text x="339.9" y="166.6" font-size="5.8" fill="#f4b974" text-anchor="middle" font-weight="normal" >0</text>
<text x="210.29999999999998" y="173.1" font-size="6.2" fill="#3a3a3a" stroke="#3a3a3a" stroke-width="0.05" text-anchor="start" font-weight="normal" >Q2:</text>
<text x="227.7" y="173.1" font-size="5.8" fill="#c4406a" text-anchor="middle" font-weight="normal" >152</text>
<text x="243.0" y="173.1" font-size="5.8" fill="#c4406a" text-anchor="middle" font-weight="normal" >113</text>
<text x="256.2" y="173.1" font-size="5.8" fill="#c4406a" text-anchor="middle" font-weight="normal" >84</text>
<text x="266.9" y="173.1" font-size="5.8" fill="#c4406a" text-anchor="middle" font-weight="normal" >66</text>
<text x="278.2" y="173.1" font-size="5.8" fill="#c4406a" text-anchor="middle" font-weight="normal" >49</text>
<text x="289.4" y="173.1" font-size="5.8" fill="#c4406a" text-anchor="middle" font-weight="normal" >33</text>
<text x="300.7" y="173.1" font-size="5.8" fill="#c4406a" text-anchor="middle" font-weight="normal" >21</text>
<text x="311.9" y="173.1" font-size="5.8" fill="#c4406a" text-anchor="middle" font-weight="normal" >13</text>
<text x="323.1" y="173.1" font-size="5.8" fill="#c4406a" text-anchor="middle" font-weight="normal" >4</text>
<text x="333.5" y="173.1" font-size="5.8" fill="#c4406a" text-anchor="middle" font-weight="normal" >1</text>
<text x="339.9" y="173.1" font-size="5.8" fill="#c4406a" text-anchor="middle" font-weight="normal" >0</text>
<text x="210.29999999999998" y="179.6" font-size="6.2" fill="#3a3a3a" stroke="#3a3a3a" stroke-width="0.05" text-anchor="start" font-weight="normal" >Q3:</text>
<text x="227.7" y="179.6" font-size="5.8" fill="#66ae62" text-anchor="middle" font-weight="normal" >150</text>
<text x="243.0" y="179.6" font-size="5.8" fill="#66ae62" text-anchor="middle" font-weight="normal" >115</text>
<text x="256.2" y="179.6" font-size="5.8" fill="#66ae62" text-anchor="middle" font-weight="normal" >82</text>
<text x="266.9" y="179.6" font-size="5.8" fill="#66ae62" text-anchor="middle" font-weight="normal" >56</text>
<text x="278.2" y="179.6" font-size="5.8" fill="#66ae62" text-anchor="middle" font-weight="normal" >36</text>
<text x="289.4" y="179.6" font-size="5.8" fill="#66ae62" text-anchor="middle" font-weight="normal" >23</text>
<text x="300.7" y="179.6" font-size="5.8" fill="#66ae62" text-anchor="middle" font-weight="normal" >18</text>
<text x="311.9" y="179.6" font-size="5.8" fill="#66ae62" text-anchor="middle" font-weight="normal" >10</text>
<text x="323.1" y="179.6" font-size="5.8" fill="#66ae62" text-anchor="middle" font-weight="normal" >6</text>
<text x="333.5" y="179.6" font-size="5.8" fill="#66ae62" text-anchor="middle" font-weight="normal" >1</text>
<text x="339.9" y="179.6" font-size="5.8" fill="#66ae62" text-anchor="middle" font-weight="normal" >0</text>
<text x="210.29999999999998" y="186.1" font-size="6.2" fill="#3a3a3a" stroke="#3a3a3a" stroke-width="0.05" text-anchor="start" font-weight="normal" >Q4:</text>
<text x="227.7" y="186.1" font-size="5.8" fill="#3f5590" text-anchor="middle" font-weight="normal" >152</text>
<text x="243.0" y="186.1" font-size="5.8" fill="#3f5590" text-anchor="middle" font-weight="normal" >104</text>
<text x="256.2" y="186.1" font-size="5.8" fill="#3f5590" text-anchor="middle" font-weight="normal" >69</text>
<text x="266.9" y="186.1" font-size="5.8" fill="#3f5590" text-anchor="middle" font-weight="normal" >47</text>
<text x="278.2" y="186.1" font-size="5.8" fill="#3f5590" text-anchor="middle" font-weight="normal" >33</text>
<text x="289.4" y="186.1" font-size="5.8" fill="#3f5590" text-anchor="middle" font-weight="normal" >25</text>
<text x="300.7" y="186.1" font-size="5.8" fill="#3f5590" text-anchor="middle" font-weight="normal" >17</text>
<text x="311.9" y="186.1" font-size="5.8" fill="#3f5590" text-anchor="middle" font-weight="normal" >8</text>
<text x="323.1" y="186.1" font-size="5.8" fill="#3f5590" text-anchor="middle" font-weight="normal" >5</text>
<text x="333.5" y="186.1" font-size="5.8" fill="#3f5590" text-anchor="middle" font-weight="normal" >4</text>
<text x="339.9" y="186.1" font-size="5.8" fill="#3f5590" text-anchor="middle" font-weight="normal" >1</text>
<text x="362.2" y="158.3" font-size="6.5" fill="#222" stroke="#222" stroke-width="0.05" text-anchor="start" font-weight="normal" textLength="24.2" lengthAdjust="spacingAndGlyphs" >EASIX1y</text>
<text x="377.2" y="166.6" font-size="6.2" fill="#3a3a3a" stroke="#3a3a3a" stroke-width="0.05" text-anchor="start" font-weight="normal" >Q1:</text>
<text x="394.8" y="166.6" font-size="5.8" fill="#f4b974" text-anchor="middle" font-weight="normal" >152</text>
<text x="409.5" y="166.6" font-size="5.8" fill="#f4b974" text-anchor="middle" font-weight="normal" >113</text>
<text x="422.5" y="166.6" font-size="5.8" fill="#f4b974" text-anchor="middle" font-weight="normal" >88</text>
<text x="433.7" y="166.6" font-size="5.8" fill="#f4b974" text-anchor="middle" font-weight="normal" >76</text>
<text x="444.4" y="166.6" font-size="5.8" fill="#f4b974" text-anchor="middle" font-weight="normal" >63</text>
<text x="456.1" y="166.6" font-size="5.8" fill="#f4b974" text-anchor="middle" font-weight="normal" >50</text>
<text x="467.4" y="166.6" font-size="5.8" fill="#f4b974" text-anchor="middle" font-weight="normal" >37</text>
<text x="478.6" y="166.6" font-size="5.8" fill="#f4b974" text-anchor="middle" font-weight="normal" >23</text>
<text x="490.4" y="166.6" font-size="5.8" fill="#f4b974" text-anchor="middle" font-weight="normal" >11</text>
<text x="499.7" y="166.6" font-size="5.8" fill="#f4b974" text-anchor="middle" font-weight="normal" >4</text>
<text x="507.2" y="166.6" font-size="5.8" fill="#f4b974" text-anchor="middle" font-weight="normal" >0</text>
<text x="377.2" y="173.1" font-size="6.2" fill="#3a3a3a" stroke="#3a3a3a" stroke-width="0.05" text-anchor="start" font-weight="normal" >Q2:</text>
<text x="394.8" y="173.1" font-size="5.8" fill="#c4406a" text-anchor="middle" font-weight="normal" >152</text>
<text x="409.5" y="173.1" font-size="5.8" fill="#c4406a" text-anchor="middle" font-weight="normal" >113</text>
<text x="422.5" y="173.1" font-size="5.8" fill="#c4406a" text-anchor="middle" font-weight="normal" >84</text>
<text x="433.7" y="173.1" font-size="5.8" fill="#c4406a" text-anchor="middle" font-weight="normal" >66</text>
<text x="444.4" y="173.1" font-size="5.8" fill="#c4406a" text-anchor="middle" font-weight="normal" >49</text>
<text x="456.1" y="173.1" font-size="5.8" fill="#c4406a" text-anchor="middle" font-weight="normal" >33</text>
<text x="467.4" y="173.1" font-size="5.8" fill="#c4406a" text-anchor="middle" font-weight="normal" >21</text>
<text x="478.6" y="173.1" font-size="5.8" fill="#c4406a" text-anchor="middle" font-weight="normal" >13</text>
<text x="490.4" y="173.1" font-size="5.8" fill="#c4406a" text-anchor="middle" font-weight="normal" >4</text>
<text x="499.7" y="173.1" font-size="5.8" fill="#c4406a" text-anchor="middle" font-weight="normal" >1</text>
<text x="507.2" y="173.1" font-size="5.8" fill="#c4406a" text-anchor="middle" font-weight="normal" >0</text>
<text x="377.2" y="179.6" font-size="6.2" fill="#3a3a3a" stroke="#3a3a3a" stroke-width="0.05" text-anchor="start" font-weight="normal" >Q3:</text>
<text x="394.8" y="179.6" font-size="5.8" fill="#66ae62" text-anchor="middle" font-weight="normal" >150</text>
<text x="409.5" y="179.6" font-size="5.8" fill="#66ae62" text-anchor="middle" font-weight="normal" >115</text>
<text x="422.5" y="179.6" font-size="5.8" fill="#66ae62" text-anchor="middle" font-weight="normal" >82</text>
<text x="433.7" y="179.6" font-size="5.8" fill="#66ae62" text-anchor="middle" font-weight="normal" >56</text>
<text x="444.4" y="179.6" font-size="5.8" fill="#66ae62" text-anchor="middle" font-weight="normal" >36</text>
<text x="456.1" y="179.6" font-size="5.8" fill="#66ae62" text-anchor="middle" font-weight="normal" >23</text>
<text x="467.4" y="179.6" font-size="5.8" fill="#66ae62" text-anchor="middle" font-weight="normal" >18</text>
<text x="478.6" y="179.6" font-size="5.8" fill="#66ae62" text-anchor="middle" font-weight="normal" >10</text>
<text x="490.4" y="179.6" font-size="5.8" fill="#66ae62" text-anchor="middle" font-weight="normal" >6</text>
<text x="499.7" y="179.6" font-size="5.8" fill="#66ae62" text-anchor="middle" font-weight="normal" >1</text>
<text x="507.2" y="179.6" font-size="5.8" fill="#66ae62" text-anchor="middle" font-weight="normal" >0</text>
<text x="377.2" y="186.1" font-size="6.2" fill="#3a3a3a" stroke="#3a3a3a" stroke-width="0.05" text-anchor="start" font-weight="normal" >Q4:</text>
<text x="394.8" y="186.1" font-size="5.8" fill="#3f5590" text-anchor="middle" font-weight="normal" >152</text>
<text x="409.5" y="186.1" font-size="5.8" fill="#3f5590" text-anchor="middle" font-weight="normal" >104</text>
<text x="422.5" y="186.1" font-size="5.8" fill="#3f5590" text-anchor="middle" font-weight="normal" >69</text>
<text x="433.7" y="186.1" font-size="5.8" fill="#3f5590" text-anchor="middle" font-weight="normal" >47</text>
<text x="444.4" y="186.1" font-size="5.8" fill="#3f5590" text-anchor="middle" font-weight="normal" >33</text>
<text x="456.1" y="186.1" font-size="5.8" fill="#3f5590" text-anchor="middle" font-weight="normal" >25</text>
<text x="467.4" y="186.1" font-size="5.8" fill="#3f5590" text-anchor="middle" font-weight="normal" >17</text>
<text x="478.6" y="186.1" font-size="5.8" fill="#3f5590" text-anchor="middle" font-weight="normal" >8</text>
<text x="490.4" y="186.1" font-size="5.8" fill="#3f5590" text-anchor="middle" font-weight="normal" >5</text>
<text x="499.7" y="186.1" font-size="5.8" fill="#3f5590" text-anchor="middle" font-weight="normal" >4</text>
<text x="507.2" y="186.1" font-size="5.8" fill="#3f5590" text-anchor="middle" font-weight="normal" >1</text>
<text x="26.8" y="330.8" font-size="6.5" fill="#222" stroke="#222" stroke-width="0.05" text-anchor="start" font-weight="normal" textLength="24.2" lengthAdjust="spacingAndGlyphs" >EASIX1y</text>
<text x="41.8" y="339.8" font-size="6.2" fill="#3a3a3a" stroke="#3a3a3a" stroke-width="0.05" text-anchor="start" font-weight="normal" >Q1:</text>
<text x="58.5" y="339.8" font-size="5.8" fill="#f4b974" text-anchor="middle" font-weight="normal" >213</text>
<text x="72.3" y="339.8" font-size="5.8" fill="#f4b974" text-anchor="middle" font-weight="normal" >203</text>
<text x="85.4" y="339.8" font-size="5.8" fill="#f4b974" text-anchor="middle" font-weight="normal" >181</text>
<text x="98.7" y="339.8" font-size="5.8" fill="#f4b974" text-anchor="middle" font-weight="normal" >158</text>
<text x="112.5" y="339.8" font-size="5.8" fill="#f4b974" text-anchor="middle" font-weight="normal" >131</text>
<text x="126.3" y="339.8" font-size="5.8" fill="#f4b974" text-anchor="middle" font-weight="normal" >104</text>
<text x="138.4" y="339.8" font-size="5.8" fill="#f4b974" text-anchor="middle" font-weight="normal" >73</text>
<text x="149.7" y="339.8" font-size="5.8" fill="#f4b974" text-anchor="middle" font-weight="normal" >44</text>
<text x="158.3" y="339.8" font-size="5.8" fill="#f4b974" text-anchor="middle" font-weight="normal" >25</text>
<text x="167.9" y="339.8" font-size="5.8" fill="#f4b974" text-anchor="middle" font-weight="normal" >12</text>
<text x="175.6" y="339.8" font-size="5.8" fill="#f4b974" text-anchor="middle" font-weight="normal" >1</text>
<text x="41.8" y="346.3" font-size="6.2" fill="#3a3a3a" stroke="#3a3a3a" stroke-width="0.05" text-anchor="start" font-weight="normal" >Q2:</text>
<text x="58.5" y="346.3" font-size="5.8" fill="#c4406a" text-anchor="middle" font-weight="normal" >213</text>
<text x="72.3" y="346.3" font-size="5.8" fill="#c4406a" text-anchor="middle" font-weight="normal" >205</text>
<text x="85.4" y="346.3" font-size="5.8" fill="#c4406a" text-anchor="middle" font-weight="normal" >185</text>
<text x="98.7" y="346.3" font-size="5.8" fill="#c4406a" text-anchor="middle" font-weight="normal" >169</text>
<text x="112.5" y="346.3" font-size="5.8" fill="#c4406a" text-anchor="middle" font-weight="normal" >145</text>
<text x="126.3" y="346.3" font-size="5.8" fill="#c4406a" text-anchor="middle" font-weight="normal" >119</text>
<text x="138.4" y="346.3" font-size="5.8" fill="#c4406a" text-anchor="middle" font-weight="normal" >94</text>
<text x="149.7" y="346.3" font-size="5.8" fill="#c4406a" text-anchor="middle" font-weight="normal" >57</text>
<text x="158.3" y="346.3" font-size="5.8" fill="#c4406a" text-anchor="middle" font-weight="normal" >36</text>
<text x="167.9" y="346.3" font-size="5.8" fill="#c4406a" text-anchor="middle" font-weight="normal" >7</text>
<text x="175.6" y="346.3" font-size="5.8" fill="#c4406a" text-anchor="middle" font-weight="normal" >0</text>
<text x="41.8" y="352.8" font-size="6.2" fill="#3a3a3a" stroke="#3a3a3a" stroke-width="0.05" text-anchor="start" font-weight="normal" >Q3:</text>
<text x="58.5" y="352.8" font-size="5.8" fill="#66ae62" text-anchor="middle" font-weight="normal" >213</text>
<text x="72.3" y="352.8" font-size="5.8" fill="#66ae62" text-anchor="middle" font-weight="normal" >202</text>
<text x="85.4" y="352.8" font-size="5.8" fill="#66ae62" text-anchor="middle" font-weight="normal" >171</text>
<text x="98.7" y="352.8" font-size="5.8" fill="#66ae62" text-anchor="middle" font-weight="normal" >142</text>
<text x="112.5" y="352.8" font-size="5.8" fill="#66ae62" text-anchor="middle" font-weight="normal" >121</text>
<text x="126.3" y="352.8" font-size="5.8" fill="#66ae62" text-anchor="middle" font-weight="normal" >93</text>
<text x="138.4" y="352.8" font-size="5.8" fill="#66ae62" text-anchor="middle" font-weight="normal" >73</text>
<text x="149.7" y="352.8" font-size="5.8" fill="#66ae62" text-anchor="middle" font-weight="normal" >46</text>
<text x="158.3" y="352.8" font-size="5.8" fill="#66ae62" text-anchor="middle" font-weight="normal" >27</text>
<text x="167.9" y="352.8" font-size="5.8" fill="#66ae62" text-anchor="middle" font-weight="normal" >9</text>
<text x="175.6" y="352.8" font-size="5.8" fill="#66ae62" text-anchor="middle" font-weight="normal" >0</text>
<text x="41.8" y="359.3" font-size="6.2" fill="#3a3a3a" stroke="#3a3a3a" stroke-width="0.05" text-anchor="start" font-weight="normal" >Q4:</text>
<text x="58.5" y="359.3" font-size="5.8" fill="#3f5590" text-anchor="middle" font-weight="normal" >213</text>
<text x="72.3" y="359.3" font-size="5.8" fill="#3f5590" text-anchor="middle" font-weight="normal" >170</text>
<text x="85.4" y="359.3" font-size="5.8" fill="#3f5590" text-anchor="middle" font-weight="normal" >147</text>
<text x="98.7" y="359.3" font-size="5.8" fill="#3f5590" text-anchor="middle" font-weight="normal" >125</text>
<text x="112.5" y="359.3" font-size="5.8" fill="#3f5590" text-anchor="middle" font-weight="normal" >94</text>
<text x="126.3" y="359.3" font-size="5.8" fill="#3f5590" text-anchor="middle" font-weight="normal" >72</text>
<text x="138.4" y="359.3" font-size="5.8" fill="#3f5590" text-anchor="middle" font-weight="normal" >57</text>
<text x="149.7" y="359.3" font-size="5.8" fill="#3f5590" text-anchor="middle" font-weight="normal" >39</text>
<text x="158.3" y="359.3" font-size="5.8" fill="#3f5590" text-anchor="middle" font-weight="normal" >22</text>
<text x="167.9" y="359.3" font-size="5.8" fill="#3f5590" text-anchor="middle" font-weight="normal" >5</text>
<text x="175.6" y="359.3" font-size="5.8" fill="#3f5590" text-anchor="middle" font-weight="normal" >0</text>
<text x="195.5" y="330.8" font-size="6.5" fill="#222" stroke="#222" stroke-width="0.05" text-anchor="start" font-weight="normal" textLength="24.2" lengthAdjust="spacingAndGlyphs" >EASIX1y</text>
<text x="210.5" y="339.8" font-size="6.2" fill="#3a3a3a" stroke="#3a3a3a" stroke-width="0.05" text-anchor="start" font-weight="normal" >Q1:</text>
<text x="226.5" y="339.8" font-size="5.8" fill="#f4b974" text-anchor="middle" font-weight="normal" >213</text>
<text x="242.1" y="339.8" font-size="5.8" fill="#f4b974" text-anchor="middle" font-weight="normal" >198</text>
<text x="255.0" y="339.8" font-size="5.8" fill="#f4b974" text-anchor="middle" font-weight="normal" >170</text>
<text x="267.8" y="339.8" font-size="5.8" fill="#f4b974" text-anchor="middle" font-weight="normal" >149</text>
<text x="281.6" y="339.8" font-size="5.8" fill="#f4b974" text-anchor="middle" font-weight="normal" >122</text>
<text x="295.5" y="339.8" font-size="5.8" fill="#f4b974" text-anchor="middle" font-weight="normal" >100</text>
<text x="306.7" y="339.8" font-size="5.8" fill="#f4b974" text-anchor="middle" font-weight="normal" >69</text>
<text x="317.1" y="339.8" font-size="5.8" fill="#f4b974" text-anchor="middle" font-weight="normal" >49</text>
<text x="326.6" y="339.8" font-size="5.8" fill="#f4b974" text-anchor="middle" font-weight="normal" >25</text>
<text x="336.1" y="339.8" font-size="5.8" fill="#f4b974" text-anchor="middle" font-weight="normal" >12</text>
<text x="344.8" y="339.8" font-size="5.8" fill="#f4b974" text-anchor="middle" font-weight="normal" >1</text>
<text x="210.5" y="346.3" font-size="6.2" fill="#3a3a3a" stroke="#3a3a3a" stroke-width="0.05" text-anchor="start" font-weight="normal" >Q2:</text>
<text x="226.5" y="346.3" font-size="5.8" fill="#c4406a" text-anchor="middle" font-weight="normal" >213</text>
<text x="242.1" y="346.3" font-size="5.8" fill="#c4406a" text-anchor="middle" font-weight="normal" >194</text>
<text x="255.0" y="346.3" font-size="5.8" fill="#c4406a" text-anchor="middle" font-weight="normal" >176</text>
<text x="267.8" y="346.3" font-size="5.8" fill="#c4406a" text-anchor="middle" font-weight="normal" >157</text>
<text x="281.6" y="346.3" font-size="5.8" fill="#c4406a" text-anchor="middle" font-weight="normal" >134</text>
<text x="295.5" y="346.3" font-size="5.8" fill="#c4406a" text-anchor="middle" font-weight="normal" >107</text>
<text x="306.7" y="346.3" font-size="5.8" fill="#c4406a" text-anchor="middle" font-weight="normal" >83</text>
<text x="317.1" y="346.3" font-size="5.8" fill="#c4406a" text-anchor="middle" font-weight="normal" >51</text>
<text x="326.6" y="346.3" font-size="5.8" fill="#c4406a" text-anchor="middle" font-weight="normal" >33</text>
<text x="336.1" y="346.3" font-size="5.8" fill="#c4406a" text-anchor="middle" font-weight="normal" >6</text>
<text x="344.8" y="346.3" font-size="5.8" fill="#c4406a" text-anchor="middle" font-weight="normal" >0</text>
<text x="210.5" y="352.8" font-size="6.2" fill="#3a3a3a" stroke="#3a3a3a" stroke-width="0.05" text-anchor="start" font-weight="normal" >Q3:</text>
<text x="226.5" y="352.8" font-size="5.8" fill="#66ae62" text-anchor="middle" font-weight="normal" >213</text>
<text x="242.1" y="352.8" font-size="5.8" fill="#66ae62" text-anchor="middle" font-weight="normal" >190</text>
<text x="255.0" y="352.8" font-size="5.8" fill="#66ae62" text-anchor="middle" font-weight="normal" >159</text>
<text x="267.8" y="352.8" font-size="5.8" fill="#66ae62" text-anchor="middle" font-weight="normal" >135</text>
<text x="281.6" y="352.8" font-size="5.8" fill="#66ae62" text-anchor="middle" font-weight="normal" >114</text>
<text x="295.5" y="352.8" font-size="5.8" fill="#66ae62" text-anchor="middle" font-weight="normal" >88</text>
<text x="306.7" y="352.8" font-size="5.8" fill="#66ae62" text-anchor="middle" font-weight="normal" >69</text>
<text x="317.1" y="352.8" font-size="5.8" fill="#66ae62" text-anchor="middle" font-weight="normal" >46</text>
<text x="326.6" y="352.8" font-size="5.8" fill="#66ae62" text-anchor="middle" font-weight="normal" >26</text>
<text x="336.1" y="352.8" font-size="5.8" fill="#66ae62" text-anchor="middle" font-weight="normal" >9</text>
<text x="344.8" y="352.8" font-size="5.8" fill="#66ae62" text-anchor="middle" font-weight="normal" >0</text>
<text x="210.5" y="359.3" font-size="6.2" fill="#3a3a3a" stroke="#3a3a3a" stroke-width="0.05" text-anchor="start" font-weight="normal" >Q4:</text>
<text x="226.5" y="359.3" font-size="5.8" fill="#3f5590" text-anchor="middle" font-weight="normal" >213</text>
<text x="242.1" y="359.3" font-size="5.8" fill="#3f5590" text-anchor="middle" font-weight="normal" >164</text>
<text x="255.0" y="359.3" font-size="5.8" fill="#3f5590" text-anchor="middle" font-weight="normal" >142</text>
<text x="267.8" y="359.3" font-size="5.8" fill="#3f5590" text-anchor="middle" font-weight="normal" >119</text>
<text x="281.6" y="359.3" font-size="5.8" fill="#3f5590" text-anchor="middle" font-weight="normal" >88</text>
<text x="295.5" y="359.3" font-size="5.8" fill="#3f5590" text-anchor="middle" font-weight="normal" >67</text>
<text x="306.7" y="359.3" font-size="5.8" fill="#3f5590" text-anchor="middle" font-weight="normal" >51</text>
<text x="317.1" y="359.3" font-size="5.8" fill="#3f5590" text-anchor="middle" font-weight="normal" >33</text>
<text x="326.6" y="359.3" font-size="5.8" fill="#3f5590" text-anchor="middle" font-weight="normal" >20</text>
<text x="336.1" y="359.3" font-size="5.8" fill="#3f5590" text-anchor="middle" font-weight="normal" >4</text>
<text x="344.8" y="359.3" font-size="5.8" fill="#3f5590" text-anchor="middle" font-weight="normal" >0</text>
<text x="362.4" y="330.8" font-size="6.5" fill="#222" stroke="#222" stroke-width="0.05" text-anchor="start" font-weight="normal" textLength="24.2" lengthAdjust="spacingAndGlyphs" >EASIX1y</text>
<text x="377.4" y="339.8" font-size="6.2" fill="#3a3a3a" stroke="#3a3a3a" stroke-width="0.05" text-anchor="start" font-weight="normal" >Q1:</text>
<text x="394.2" y="339.8" font-size="5.8" fill="#f4b974" text-anchor="middle" font-weight="normal" >213</text>
<text x="408.1" y="339.8" font-size="5.8" fill="#f4b974" text-anchor="middle" font-weight="normal" >198</text>
<text x="420.4" y="339.8" font-size="5.8" fill="#f4b974" text-anchor="middle" font-weight="normal" >170</text>
<text x="434.8" y="339.8" font-size="5.8" fill="#f4b974" text-anchor="middle" font-weight="normal" >149</text>
<text x="448.3" y="339.8" font-size="5.8" fill="#f4b974" text-anchor="middle" font-weight="normal" >122</text>
<text x="462.6" y="339.8" font-size="5.8" fill="#f4b974" text-anchor="middle" font-weight="normal" >100</text>
<text x="473.7" y="339.8" font-size="5.8" fill="#f4b974" text-anchor="middle" font-weight="normal" >69</text>
<text x="484.0" y="339.8" font-size="5.8" fill="#f4b974" text-anchor="middle" font-weight="normal" >42</text>
<text x="493.5" y="339.8" font-size="5.8" fill="#f4b974" text-anchor="middle" font-weight="normal" >25</text>
<text x="502.8" y="339.8" font-size="5.8" fill="#f4b974" text-anchor="middle" font-weight="normal" >12</text>
<text x="511.8" y="339.8" font-size="5.8" fill="#f4b974" text-anchor="middle" font-weight="normal" >1</text>
<text x="377.4" y="346.3" font-size="6.2" fill="#3a3a3a" stroke="#3a3a3a" stroke-width="0.05" text-anchor="start" font-weight="normal" >Q2:</text>
<text x="394.2" y="346.3" font-size="5.8" fill="#c4406a" text-anchor="middle" font-weight="normal" >213</text>
<text x="408.1" y="346.3" font-size="5.8" fill="#c4406a" text-anchor="middle" font-weight="normal" >194</text>
<text x="420.4" y="346.3" font-size="5.8" fill="#c4406a" text-anchor="middle" font-weight="normal" >176</text>
<text x="434.8" y="346.3" font-size="5.8" fill="#c4406a" text-anchor="middle" font-weight="normal" >157</text>
<text x="448.3" y="346.3" font-size="5.8" fill="#c4406a" text-anchor="middle" font-weight="normal" >134</text>
<text x="462.6" y="346.3" font-size="5.8" fill="#c4406a" text-anchor="middle" font-weight="normal" >107</text>
<text x="473.7" y="346.3" font-size="5.8" fill="#c4406a" text-anchor="middle" font-weight="normal" >83</text>
<text x="484.0" y="346.3" font-size="5.8" fill="#c4406a" text-anchor="middle" font-weight="normal" >51</text>
<text x="493.5" y="346.3" font-size="5.8" fill="#c4406a" text-anchor="middle" font-weight="normal" >33</text>
<text x="502.8" y="346.3" font-size="5.8" fill="#c4406a" text-anchor="middle" font-weight="normal" >6</text>
<text x="511.8" y="346.3" font-size="5.8" fill="#c4406a" text-anchor="middle" font-weight="normal" >0</text>
<text x="377.4" y="352.8" font-size="6.2" fill="#3a3a3a" stroke="#3a3a3a" stroke-width="0.05" text-anchor="start" font-weight="normal" >Q3:</text>
<text x="394.2" y="352.8" font-size="5.8" fill="#66ae62" text-anchor="middle" font-weight="normal" >213</text>
<text x="408.1" y="352.8" font-size="5.8" fill="#66ae62" text-anchor="middle" font-weight="normal" >190</text>
<text x="420.4" y="352.8" font-size="5.8" fill="#66ae62" text-anchor="middle" font-weight="normal" >159</text>
<text x="434.8" y="352.8" font-size="5.8" fill="#66ae62" text-anchor="middle" font-weight="normal" >135</text>
<text x="448.3" y="352.8" font-size="5.8" fill="#66ae62" text-anchor="middle" font-weight="normal" >114</text>
<text x="462.6" y="352.8" font-size="5.8" fill="#66ae62" text-anchor="middle" font-weight="normal" >88</text>
<text x="473.7" y="352.8" font-size="5.8" fill="#66ae62" text-anchor="middle" font-weight="normal" >69</text>
<text x="484.0" y="352.8" font-size="5.8" fill="#66ae62" text-anchor="middle" font-weight="normal" >46</text>
<text x="493.5" y="352.8" font-size="5.8" fill="#66ae62" text-anchor="middle" font-weight="normal" >26</text>
<text x="502.8" y="352.8" font-size="5.8" fill="#66ae62" text-anchor="middle" font-weight="normal" >9</text>
<text x="511.8" y="352.8" font-size="5.8" fill="#66ae62" text-anchor="middle" font-weight="normal" >0</text>
<text x="377.4" y="359.3" font-size="6.2" fill="#3a3a3a" stroke="#3a3a3a" stroke-width="0.05" text-anchor="start" font-weight="normal" >Q4:</text>
<text x="394.2" y="359.3" font-size="5.8" fill="#3f5590" text-anchor="middle" font-weight="normal" >213</text>
<text x="408.1" y="359.3" font-size="5.8" fill="#3f5590" text-anchor="middle" font-weight="normal" >164</text>
<text x="420.4" y="359.3" font-size="5.8" fill="#3f5590" text-anchor="middle" font-weight="normal" >142</text>
<text x="434.8" y="359.3" font-size="5.8" fill="#3f5590" text-anchor="middle" font-weight="normal" >119</text>
<text x="448.3" y="359.3" font-size="5.8" fill="#3f5590" text-anchor="middle" font-weight="normal" >88</text>
<text x="462.6" y="359.3" font-size="5.8" fill="#3f5590" text-anchor="middle" font-weight="normal" >67</text>
<text x="473.7" y="359.3" font-size="5.8" fill="#3f5590" text-anchor="middle" font-weight="normal" >51</text>
<text x="484.0" y="359.3" font-size="5.8" fill="#3f5590" text-anchor="middle" font-weight="normal" >33</text>
<text x="493.5" y="359.3" font-size="5.8" fill="#3f5590" text-anchor="middle" font-weight="normal" >20</text>
<text x="502.8" y="359.3" font-size="5.8" fill="#3f5590" text-anchor="middle" font-weight="normal" >4</text>
<text x="511.8" y="359.3" font-size="5.8" fill="#3f5590" text-anchor="middle" font-weight="normal" >0</text>
<line x1="163.7" y1="369.6" x2="182.9" y2="369.6" stroke="#ef9c2f" stroke-width="1.1" stroke-opacity="0.75"/>
<text x="186.3" y="372.2" font-size="6.1" fill="#333" stroke="#333" stroke-width="0.05" text-anchor="start" font-weight="normal" textLength="28.3" lengthAdjust="spacingAndGlyphs" >1st Quartile</text>
<line x1="226.9" y1="369.6" x2="246.2" y2="369.6" stroke="#c42a40" stroke-width="1.1" stroke-opacity="0.75"/>
<text x="249.2" y="372.2" font-size="6.1" fill="#333" stroke="#333" stroke-width="0.05" text-anchor="start" font-weight="normal" textLength="31" lengthAdjust="spacingAndGlyphs" >2nd Quartile</text>
<line x1="291.2" y1="369.6" x2="310.4" y2="369.6" stroke="#55a94f" stroke-width="1.1" stroke-opacity="0.75"/>
<text x="313.8" y="372.2" font-size="6.1" fill="#333" stroke="#333" stroke-width="0.05" text-anchor="start" font-weight="normal" textLength="29.7" lengthAdjust="spacingAndGlyphs" >3rd Quartile</text>
<line x1="355.4" y1="369.6" x2="374.2" y2="369.6" stroke="#24457a" stroke-width="1.1" stroke-opacity="0.75"/>
<text x="377.5" y="372.2" font-size="6.1" fill="#333" stroke="#333" stroke-width="0.05" text-anchor="start" font-weight="normal" textLength="28.8" lengthAdjust="spacingAndGlyphs" >4th Quartile</text>
<rect x="0.5" y="0.5" width="519" height="379" fill="none" stroke="#555" stroke-width="1"/>
</g></svg>
</body></html>
